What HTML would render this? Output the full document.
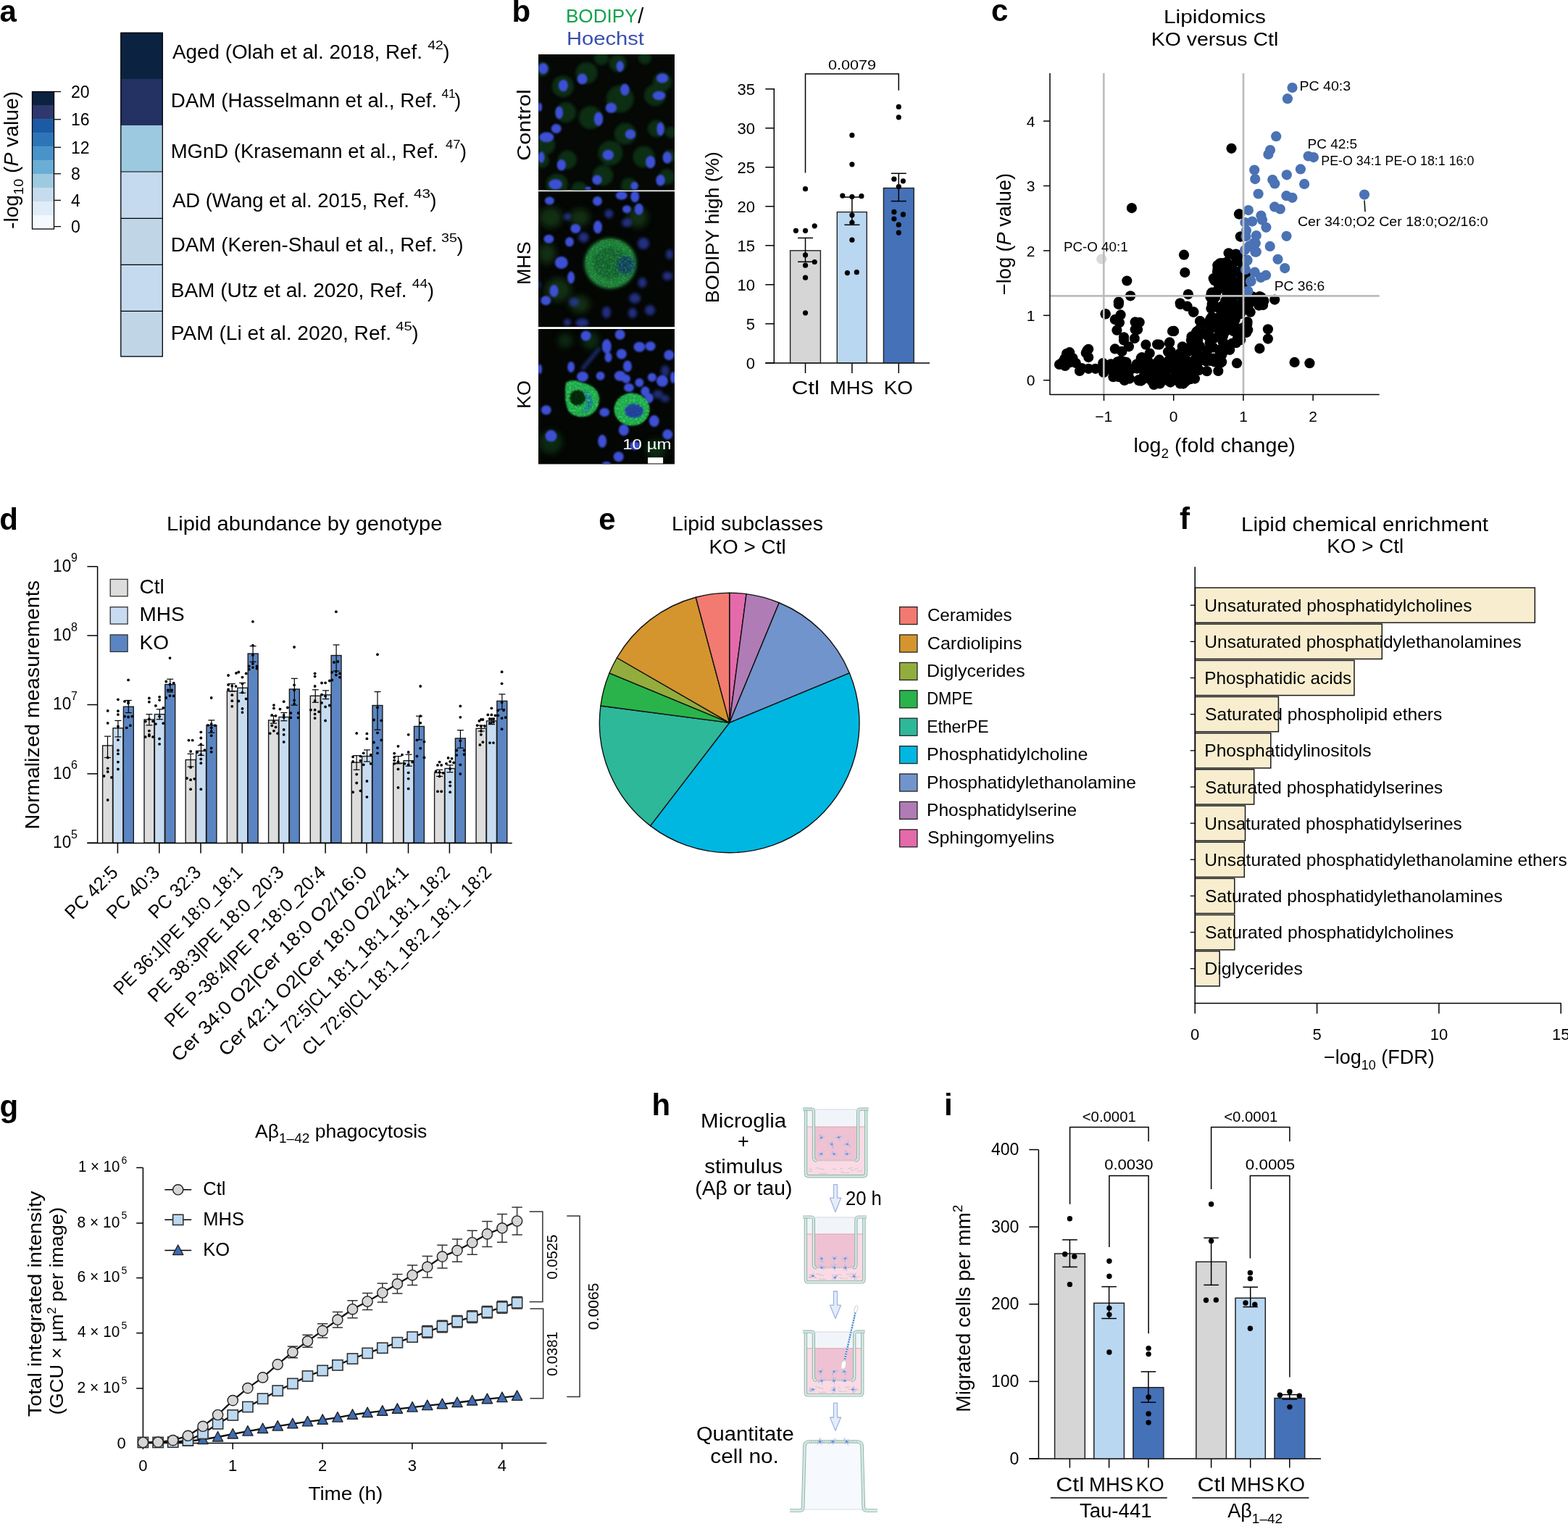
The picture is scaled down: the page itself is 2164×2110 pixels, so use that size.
<!DOCTYPE html>
<html><head><meta charset="utf-8"><title>Figure</title>
<style>html,body{margin:0;padding:0;background:#fff;overflow:hidden;} svg{display:block;} text{font-family:"Liberation Sans", Arial, sans-serif;}</style>
</head><body>
<svg width="2164" height="2110" viewBox="0 0 2164 2110">
<rect width="2164" height="2110" fill="#fff"/>
<text x="-0.6" y="29.5" font-size="42" font-weight="bold">a</text>
<rect x="44.5" y="126.5" width="30.0" height="19.4" fill="#0b2240"/>
<rect x="44.5" y="145.4" width="30.0" height="19.4" fill="#2e386c"/>
<rect x="44.5" y="164.4" width="30.0" height="19.4" fill="#1b5aa4"/>
<rect x="44.5" y="183.3" width="30.0" height="19.4" fill="#2e75b8"/>
<rect x="44.5" y="202.3" width="30.0" height="19.4" fill="#4893c7"/>
<rect x="44.5" y="221.2" width="30.0" height="19.4" fill="#6aadd5"/>
<rect x="44.5" y="240.2" width="30.0" height="19.4" fill="#9ecae0"/>
<rect x="44.5" y="259.1" width="30.0" height="19.4" fill="#c7dbee"/>
<rect x="44.5" y="278.1" width="30.0" height="19.4" fill="#e0ecf7"/>
<rect x="44.5" y="297.0" width="30.0" height="19.4" fill="#f5f9fd"/>
<rect x="44.5" y="126.5" width="30.0" height="189.5" fill="none" stroke="#000" stroke-width="1.3"/>
<line x1="74.5" y1="126.5" x2="84.0" y2="126.5" stroke="#000" stroke-width="1.3"/>
<text x="98.0" y="134.8" font-size="23">20</text>
<line x1="74.5" y1="164.8" x2="84.0" y2="164.8" stroke="#000" stroke-width="1.3"/>
<text x="98.0" y="173.1" font-size="23">16</text>
<line x1="74.5" y1="203.3" x2="84.0" y2="203.3" stroke="#000" stroke-width="1.3"/>
<text x="98.0" y="211.6" font-size="23">12</text>
<line x1="74.5" y1="239.8" x2="84.0" y2="239.8" stroke="#000" stroke-width="1.3"/>
<text x="98.0" y="248.1" font-size="23">8</text>
<line x1="74.5" y1="276.4" x2="84.0" y2="276.4" stroke="#000" stroke-width="1.3"/>
<text x="98.0" y="284.7" font-size="23">4</text>
<line x1="74.5" y1="312.6" x2="84.0" y2="312.6" stroke="#000" stroke-width="1.3"/>
<text x="98.0" y="320.9" font-size="23">0</text>
<text transform="translate(25 316) rotate(-90)" font-size="27" textLength="190" lengthAdjust="spacingAndGlyphs">-log<tspan font-size="19" dy="7">10</tspan><tspan dy="-7"> (</tspan><tspan font-style="italic">P</tspan> value)</text>
<rect x="166.8" y="44.8" width="57.5" height="64.2" fill="#0b2341"/>
<rect x="166.8" y="109.0" width="57.5" height="64.0" fill="#233163"/>
<rect x="166.8" y="173.0" width="57.5" height="64.0" fill="#9dc9e0"/>
<rect x="166.8" y="237.0" width="57.5" height="64.4" fill="#c5daee"/>
<rect x="166.8" y="301.4" width="57.5" height="63.9" fill="#c0d6e7"/>
<rect x="166.8" y="365.3" width="57.5" height="64.0" fill="#c5daee"/>
<rect x="166.8" y="429.3" width="57.5" height="63.2" fill="#c0d6e7"/>
<line x1="166.8" y1="237.0" x2="224.3" y2="237.0" stroke="#000" stroke-width="1.2"/>
<line x1="166.8" y1="301.4" x2="224.3" y2="301.4" stroke="#000" stroke-width="1.2"/>
<line x1="166.8" y1="365.3" x2="224.3" y2="365.3" stroke="#000" stroke-width="1.2"/>
<line x1="166.8" y1="429.3" x2="224.3" y2="429.3" stroke="#000" stroke-width="1.2"/>
<rect x="166.8" y="45.4" width="57.5" height="446.5" fill="none" stroke="#000" stroke-width="1.3"/>
<text x="237.9" y="81.0" font-size="27" textLength="345.1" lengthAdjust="spacingAndGlyphs">Aged (Olah et al. 2018, Ref.</text>
<text x="590.2" y="68.0" font-size="17" textLength="21.7" lengthAdjust="spacingAndGlyphs">42</text>
<text x="611.5" y="81.0" font-size="27">)</text>
<text x="235.7" y="147.7" font-size="27" textLength="367.6" lengthAdjust="spacingAndGlyphs">DAM (Hasselmann et al., Ref.</text>
<text x="609.4" y="134.7" font-size="17" textLength="19.2" lengthAdjust="spacingAndGlyphs">41</text>
<text x="627.2" y="147.7" font-size="27">)</text>
<text x="235.7" y="218.0" font-size="27" textLength="369.8" lengthAdjust="spacingAndGlyphs">MGnD (Krasemann et al., Ref.</text>
<text x="615.0" y="205.0" font-size="17" textLength="20.4" lengthAdjust="spacingAndGlyphs">47</text>
<text x="635.1" y="218.0" font-size="27">)</text>
<text x="237.9" y="286.0" font-size="27" textLength="327.1" lengthAdjust="spacingAndGlyphs">AD (Wang et al. 2015, Ref.</text>
<text x="571.0" y="273.0" font-size="17" textLength="22.8" lengthAdjust="spacingAndGlyphs">43</text>
<text x="593.4" y="286.0" font-size="27">)</text>
<text x="235.7" y="347.3" font-size="27" textLength="367.6" lengthAdjust="spacingAndGlyphs">DAM (Keren-Shaul et al., Ref.</text>
<text x="609.1" y="334.3" font-size="17" textLength="21.8" lengthAdjust="spacingAndGlyphs">35</text>
<text x="630.5" y="347.3" font-size="27">)</text>
<text x="235.7" y="410.4" font-size="27" textLength="325.9" lengthAdjust="spacingAndGlyphs">BAM (Utz et al. 2020, Ref.</text>
<text x="568.8" y="397.4" font-size="17" textLength="21.3" lengthAdjust="spacingAndGlyphs">44</text>
<text x="590.0" y="410.4" font-size="27">)</text>
<text x="235.7" y="469.0" font-size="27" textLength="304.5" lengthAdjust="spacingAndGlyphs">PAM (Li et al. 2020, Ref.</text>
<text x="546.2" y="456.0" font-size="17" textLength="22.6" lengthAdjust="spacingAndGlyphs">45</text>
<text x="568.5" y="469.0" font-size="27">)</text>
<text x="706.4" y="29.7" font-size="42" font-weight="bold">b</text>
<text x="780.9" y="30.7" font-size="26" textLength="98.7" lengthAdjust="spacingAndGlyphs" fill="#12a24b">BODIPY</text>
<text x="880.2" y="32.0" font-size="29">/</text>
<text x="781.9" y="62.0" font-size="26" textLength="107.1" lengthAdjust="spacingAndGlyphs" fill="#3a4fae">Hoechst</text>
<defs>
<filter id="bl1" x="-50%" y="-50%" width="200%" height="200%"><feGaussianBlur stdDeviation="1.2"/></filter>
<filter id="bl2" x="-50%" y="-50%" width="200%" height="200%"><feGaussianBlur stdDeviation="5"/></filter>
<filter id="bl3" x="-50%" y="-50%" width="200%" height="200%"><feGaussianBlur stdDeviation="2.2"/></filter>
<filter id="tex" x="0" y="0" width="100%" height="100%"><feTurbulence type="fractalNoise" baseFrequency="0.35" numOctaves="2" seed="4"/><feColorMatrix type="matrix" values="0 0 0 0 0.15  0 0 0 0 0.85  0 0 0 0 0.35  0 0 0 2.2 -0.95"/><feComposite in2="SourceGraphic" operator="in"/></filter>
<clipPath id="cp1"><rect x="743" y="75" width="188" height="187.5"/></clipPath>
<clipPath id="cp2"><rect x="743" y="264.2" width="188" height="187"/></clipPath>
<clipPath id="cp3"><rect x="743" y="454" width="188" height="186.5"/></clipPath>
</defs>
<rect x="743.0" y="75.0" width="188.0" height="187.5" fill="#050805"/>
<rect x="743.0" y="264.2" width="188.0" height="187.0" fill="#040604"/>
<rect x="743.0" y="454.0" width="188.0" height="186.5" fill="#040604"/>
<g clip-path="url(#cp1)"><g filter="url(#bl3)" fill="#113016" opacity="0.95"><circle cx="748.2" cy="95.6" r="10.0"/><circle cx="809.6" cy="100.7" r="15.0"/><circle cx="852.7" cy="87.4" r="12.0"/><circle cx="914.1" cy="113.0" r="13.0"/><circle cx="776.9" cy="119.2" r="15.0"/><circle cx="855.7" cy="136.6" r="19.0"/><circle cx="903.9" cy="131.4" r="15.0"/><circle cx="781.0" cy="155.0" r="14.0"/><circle cx="814.8" cy="162.2" r="16.0"/><circle cx="862.9" cy="184.7" r="15.0"/><circle cx="905.9" cy="177.5" r="12.0"/><circle cx="926.4" cy="182.7" r="8.0"/><circle cx="753.3" cy="200.1" r="13.0"/><circle cx="783.0" cy="220.6" r="13.0"/><circle cx="842.4" cy="211.3" r="17.0"/><circle cx="888.5" cy="216.5" r="15.0"/><circle cx="924.3" cy="215.4" r="9.0"/><circle cx="832.2" cy="242.1" r="14.0"/><circle cx="768.7" cy="254.4" r="15.0"/><circle cx="868.0" cy="256.4" r="11.0"/><circle cx="920.3" cy="244.1" r="11.0"/><circle cx="799.4" cy="261.5" r="11.0"/><circle cx="748.2" cy="221.6" r="10.0"/><circle cx="830.0" cy="80.0" r="10.0"/><circle cx="890.0" cy="80.0" r="9.0"/></g><g filter="url(#bl1)" fill="#3d4fd4"><ellipse cx="749.7" cy="94.6" rx="6.7" ry="7.7"/><ellipse cx="803.5" cy="108.9" rx="7.0" ry="7.4"/><ellipse cx="855.7" cy="91.5" rx="5.2" ry="7.4"/><ellipse cx="914.1" cy="107.9" rx="8.2" ry="6.6"/><ellipse cx="777.4" cy="118.1" rx="6.6" ry="8.2"/><ellipse cx="862.4" cy="123.8" rx="6.2" ry="8.2"/><ellipse cx="909.5" cy="132.0" rx="8.7" ry="6.2"/><ellipse cx="745.1" cy="147.8" rx="3.0" ry="6.2"/><ellipse cx="771.7" cy="155.5" rx="5.3" ry="8.7"/><ellipse cx="843.4" cy="148.9" rx="7.7" ry="7.2"/><ellipse cx="826.0" cy="164.2" rx="6.2" ry="9.7"/><ellipse cx="767.7" cy="177.5" rx="7.0" ry="6.5"/><ellipse cx="754.3" cy="189.3" rx="10.0" ry="7.0"/><ellipse cx="870.0" cy="185.2" rx="7.2" ry="6.7"/><ellipse cx="911.5" cy="178.0" rx="5.2" ry="9.2"/><ellipse cx="747.2" cy="217.0" rx="4.5" ry="7.7"/><ellipse cx="774.8" cy="227.7" rx="6.2" ry="7.7"/><ellipse cx="839.3" cy="213.9" rx="7.7" ry="7.2"/><ellipse cx="897.7" cy="223.6" rx="6.7" ry="8.7"/><ellipse cx="920.8" cy="217.5" rx="6.2" ry="8.2"/><ellipse cx="824.0" cy="248.2" rx="6.7" ry="6.7"/><ellipse cx="766.6" cy="254.4" rx="9.2" ry="7.2"/><ellipse cx="911.5" cy="248.7" rx="6.2" ry="7.7"/><ellipse cx="875.7" cy="256.4" rx="5.2" ry="5.6"/><ellipse cx="811.7" cy="260.0" rx="4.0" ry="2.5"/></g></g>
<g clip-path="url(#cp2)"><g filter="url(#bl2)" fill="#143a18" opacity="0.8"><ellipse cx="760" cy="300" rx="16" ry="14"/><ellipse cx="800" cy="300" rx="14" ry="12"/><ellipse cx="770" cy="400" rx="18" ry="16"/><ellipse cx="800" cy="420" rx="14" ry="12"/><ellipse cx="880" cy="300" rx="14" ry="14"/><ellipse cx="755" cy="350" rx="12" ry="14"/></g><g filter="url(#bl3)"><ellipse cx="842.4" cy="363.5" rx="36" ry="35" fill="#1d7d36"/></g><g filter="url(#bl3)"><ellipse cx="842" cy="363" rx="24" ry="22" fill="#145a27" opacity="0.75"/><ellipse cx="864" cy="366" rx="12" ry="13" fill="#0f3d5e" opacity="0.9"/></g><ellipse cx="842.4" cy="363.5" rx="35" ry="34" fill="#fff" filter="url(#tex)" opacity="0.35"/><g filter="url(#bl1)" fill="#3d4fd4"><ellipse cx="758.4" cy="277.0" rx="6.5" ry="5.5"/><ellipse cx="824.5" cy="277.5" rx="6.5" ry="6.5"/><ellipse cx="857.8" cy="269.8" rx="8.0" ry="6.0"/><ellipse cx="876.2" cy="271.3" rx="6.0" ry="8.0"/><ellipse cx="865.0" cy="288.7" rx="6.0" ry="5.5"/><ellipse cx="881.8" cy="288.7" rx="6.0" ry="8.0"/><ellipse cx="794.3" cy="315.4" rx="7.0" ry="6.5"/><ellipse cx="825.0" cy="313.3" rx="6.0" ry="9.0"/><ellipse cx="757.4" cy="329.7" rx="7.0" ry="6.0"/><ellipse cx="786.0" cy="333.8" rx="6.0" ry="6.5"/><ellipse cx="774.8" cy="362.5" rx="9.0" ry="8.5"/><ellipse cx="788.1" cy="383.0" rx="5.0" ry="8.5"/><ellipse cx="764.6" cy="401.4" rx="6.0" ry="8.5"/><ellipse cx="753.3" cy="414.7" rx="7.0" ry="6.5"/></g><g filter="url(#bl3)" fill="#2a3aa0" opacity="0.8"><ellipse cx="840.4" cy="294.9" rx="6.0" ry="6.0"/><ellipse cx="783.0" cy="299.0" rx="5.0" ry="5.0"/><ellipse cx="865.0" cy="307.2" rx="7.0" ry="6.0"/><ellipse cx="805.5" cy="327.6" rx="7.0" ry="7.0"/><ellipse cx="888.0" cy="336.0" rx="8.0" ry="8.0"/><ellipse cx="924.0" cy="351.0" rx="5.0" ry="7.0"/><ellipse cx="921.3" cy="380.9" rx="7.0" ry="6.0"/><ellipse cx="886.5" cy="390.0" rx="6.0" ry="7.0"/><ellipse cx="792.2" cy="416.7" rx="7.0" ry="6.0"/><ellipse cx="876.2" cy="411.6" rx="8.0" ry="7.0"/><ellipse cx="837.0" cy="431.0" rx="6.0" ry="8.0"/><ellipse cx="873.0" cy="432.0" rx="6.0" ry="7.0"/><ellipse cx="897.0" cy="428.0" rx="7.0" ry="7.0"/><ellipse cx="803.5" cy="445.4" rx="9.0" ry="6.0"/><ellipse cx="783.0" cy="445.0" rx="5.0" ry="5.0"/><ellipse cx="744.0" cy="393.0" rx="2.0" ry="6.0"/></g></g>
<g clip-path="url(#cp3)"><g filter="url(#bl2)" fill="#0f3414" opacity="0.8"><ellipse cx="760" cy="610" rx="16" ry="16"/><ellipse cx="905" cy="620" rx="14" ry="14"/><ellipse cx="815" cy="470" rx="12" ry="12"/><ellipse cx="780" cy="470" rx="10" ry="10"/></g><g filter="url(#bl3)" fill="#2a3ca0" opacity="0.7"><line x1="803" y1="510" x2="828" y2="480" stroke="#2a3ca0" stroke-width="5"/><ellipse cx="918" cy="512" rx="6" ry="8"/><ellipse cx="908" cy="544" rx="7" ry="6"/><ellipse cx="918" cy="550" rx="6" ry="5"/></g><g filter="url(#bl1)" fill="#3d4fd4"><ellipse cx="808.6" cy="463.4" rx="7.0" ry="7.0"/><ellipse cx="855.7" cy="461.8" rx="7.0" ry="7.0"/><ellipse cx="837.3" cy="478.0" rx="6.5" ry="10.0"/><ellipse cx="839.5" cy="493.0" rx="5.0" ry="7.0"/><ellipse cx="857.8" cy="488.5" rx="7.0" ry="7.0"/><ellipse cx="882.4" cy="478.7" rx="8.0" ry="7.0"/><ellipse cx="897.7" cy="477.7" rx="7.0" ry="6.5"/><ellipse cx="923.3" cy="490.0" rx="7.0" ry="7.0"/><ellipse cx="788.1" cy="506.4" rx="5.0" ry="7.5"/><ellipse cx="866.0" cy="505.4" rx="6.0" ry="8.0"/><ellipse cx="855.7" cy="518.7" rx="8.0" ry="7.0"/><ellipse cx="864.0" cy="522.8" rx="6.0" ry="6.0"/><ellipse cx="804.0" cy="519.7" rx="8.0" ry="7.0"/><ellipse cx="828.6" cy="518.7" rx="6.0" ry="6.0"/><ellipse cx="745.0" cy="509.4" rx="3.0" ry="7.0"/><ellipse cx="899.8" cy="520.7" rx="6.0" ry="6.0"/><ellipse cx="914.0" cy="525.8" rx="8.0" ry="8.0"/><ellipse cx="929.0" cy="521.0" rx="4.0" ry="8.0"/><ellipse cx="882.4" cy="527.9" rx="6.0" ry="6.0"/><ellipse cx="868.0" cy="535.0" rx="7.0" ry="6.0"/><ellipse cx="890.5" cy="540.2" rx="6.0" ry="7.0"/><ellipse cx="895.7" cy="549.4" rx="6.0" ry="7.0"/><ellipse cx="753.8" cy="565.8" rx="7.0" ry="6.5"/><ellipse cx="834.2" cy="568.9" rx="7.0" ry="6.0"/><ellipse cx="902.8" cy="581.1" rx="7.0" ry="8.0"/><ellipse cx="860.9" cy="593.4" rx="7.0" ry="8.0"/><ellipse cx="760.5" cy="601.6" rx="8.0" ry="8.0"/><ellipse cx="831.2" cy="608.8" rx="6.0" ry="9.0"/><ellipse cx="921.3" cy="599.6" rx="7.0" ry="7.0"/><ellipse cx="853.7" cy="630.3" rx="7.0" ry="7.0"/><ellipse cx="876.2" cy="615.0" rx="7.0" ry="6.0"/><ellipse cx="837.0" cy="640.0" rx="6.0" ry="3.0"/></g><g filter="url(#bl1)"><path d="M781,528 Q790,522 803,528 Q824,532 827,548 Q828,566 812,574 Q795,578 785,568 Q778,555 781,528 Z" fill="#1aa844"/><ellipse cx="797" cy="549" rx="11" ry="11" fill="#062408"/><path d="M806,536 Q820,545 818,560 Q812,570 803,571 Q812,558 806,536 Z" fill="#1a7a8a" opacity="0.9"/><ellipse cx="872" cy="565" rx="24.5" ry="22.5" fill="#1aa844"/><ellipse cx="875" cy="567" rx="13" ry="10" fill="#1f3f9a"/></g><path d="M781,528 Q790,522 803,528 Q824,532 827,548 Q828,566 812,574 Q795,578 785,568 Q778,555 781,528 Z" fill="#fff" filter="url(#tex)" opacity="0.6"/><ellipse cx="872" cy="565" rx="24.5" ry="22.5" fill="#fff" filter="url(#tex)" opacity="0.6"/><g filter="url(#bl1)"><ellipse cx="797" cy="549" rx="10" ry="10" fill="#062408" opacity="0.8"/><ellipse cx="875" cy="567" rx="12" ry="9" fill="#1f3f9a" opacity="0.8"/></g></g>
<text x="859.2" y="620.0" font-size="21" textLength="67.4" lengthAdjust="spacingAndGlyphs" fill="#fff">10 µm</text>
<rect x="894.1" y="631.3" width="21.0" height="8.2" fill="#fff"/>
<text x="731.8" y="221.8" font-size="26" textLength="98.6" lengthAdjust="spacingAndGlyphs" transform="rotate(-90 731.8 221.8)">Control</text>
<text x="731.8" y="393.0" font-size="26" textLength="59.7" lengthAdjust="spacingAndGlyphs" transform="rotate(-90 731.8 393.0)">MHS</text>
<text x="731.8" y="564.0" font-size="26" textLength="39.2" lengthAdjust="spacingAndGlyphs" transform="rotate(-90 731.8 564.0)">KO</text>
<line x1="1068.3" y1="122.0" x2="1068.3" y2="501.5" stroke="#000" stroke-width="1.5"/>
<line x1="1056.3" y1="501.1" x2="1283.0" y2="501.1" stroke="#000" stroke-width="1.5"/>
<line x1="1056.3" y1="500.8" x2="1068.3" y2="500.8" stroke="#000" stroke-width="1.5"/>
<text x="1042.0" y="508.5" font-size="22" text-anchor="end">0</text>
<line x1="1056.3" y1="446.8" x2="1068.3" y2="446.8" stroke="#000" stroke-width="1.5"/>
<text x="1042.0" y="454.5" font-size="22" text-anchor="end">5</text>
<line x1="1056.3" y1="392.8" x2="1068.3" y2="392.8" stroke="#000" stroke-width="1.5"/>
<text x="1042.0" y="400.5" font-size="22" text-anchor="end">10</text>
<line x1="1056.3" y1="338.8" x2="1068.3" y2="338.8" stroke="#000" stroke-width="1.5"/>
<text x="1042.0" y="346.5" font-size="22" text-anchor="end">15</text>
<line x1="1056.3" y1="284.8" x2="1068.3" y2="284.8" stroke="#000" stroke-width="1.5"/>
<text x="1042.0" y="292.5" font-size="22" text-anchor="end">20</text>
<line x1="1056.3" y1="230.8" x2="1068.3" y2="230.8" stroke="#000" stroke-width="1.5"/>
<text x="1042.0" y="238.5" font-size="22" text-anchor="end">25</text>
<line x1="1056.3" y1="176.8" x2="1068.3" y2="176.8" stroke="#000" stroke-width="1.5"/>
<text x="1042.0" y="184.5" font-size="22" text-anchor="end">30</text>
<line x1="1056.3" y1="122.8" x2="1068.3" y2="122.8" stroke="#000" stroke-width="1.5"/>
<text x="1042.0" y="130.5" font-size="22" text-anchor="end">35</text>
<line x1="1111.5" y1="501.1" x2="1111.5" y2="515.0" stroke="#000" stroke-width="1.5"/>
<line x1="1175.9" y1="501.1" x2="1175.9" y2="515.0" stroke="#000" stroke-width="1.5"/>
<line x1="1240.3" y1="501.1" x2="1240.3" y2="515.0" stroke="#000" stroke-width="1.5"/>
<rect x="1090.6" y="345.8" width="41.8" height="155.0" fill="#d6d6d6" stroke="#222" stroke-width="1.4"/>
<rect x="1155.3" y="292.6" width="41.0" height="208.2" fill="#bad7f1" stroke="#222" stroke-width="1.4"/>
<rect x="1219.4" y="259.5" width="41.8" height="241.3" fill="#4471b8" stroke="#222" stroke-width="1.4"/>
<line x1="1111.5" y1="328.4" x2="1111.5" y2="361.3" stroke="#000" stroke-width="1.5"/>
<line x1="1101.0" y1="328.4" x2="1122.0" y2="328.4" stroke="#000" stroke-width="1.5"/>
<line x1="1101.0" y1="361.3" x2="1122.0" y2="361.3" stroke="#000" stroke-width="1.5"/>
<line x1="1175.9" y1="272.0" x2="1175.9" y2="310.3" stroke="#000" stroke-width="1.5"/>
<line x1="1165.4" y1="272.0" x2="1186.4" y2="272.0" stroke="#000" stroke-width="1.5"/>
<line x1="1165.4" y1="310.3" x2="1186.4" y2="310.3" stroke="#000" stroke-width="1.5"/>
<line x1="1240.3" y1="239.3" x2="1240.3" y2="277.6" stroke="#000" stroke-width="1.5"/>
<line x1="1229.8" y1="239.3" x2="1250.8" y2="239.3" stroke="#000" stroke-width="1.5"/>
<line x1="1229.8" y1="277.6" x2="1250.8" y2="277.6" stroke="#000" stroke-width="1.5"/>
<circle cx="1111.5" cy="260.7" r="3.6" fill="#000"/>
<circle cx="1098.4" cy="318.3" r="3.6" fill="#000"/>
<circle cx="1111.5" cy="318.3" r="3.6" fill="#000"/>
<circle cx="1124.2" cy="311.8" r="3.6" fill="#000"/>
<circle cx="1111.5" cy="351.9" r="3.6" fill="#000"/>
<circle cx="1124.2" cy="361.5" r="3.6" fill="#000"/>
<circle cx="1111.5" cy="366.2" r="3.6" fill="#000"/>
<circle cx="1111.5" cy="383.2" r="3.6" fill="#000"/>
<circle cx="1111.5" cy="431.8" r="3.6" fill="#000"/>
<circle cx="1175.9" cy="186.7" r="3.6" fill="#000"/>
<circle cx="1175.9" cy="226.8" r="3.6" fill="#000"/>
<circle cx="1162.8" cy="270.1" r="3.6" fill="#000"/>
<circle cx="1175.9" cy="271.5" r="3.6" fill="#000"/>
<circle cx="1188.9" cy="270.7" r="3.6" fill="#000"/>
<circle cx="1175.9" cy="296.8" r="3.6" fill="#000"/>
<circle cx="1175.9" cy="307.2" r="3.6" fill="#000"/>
<circle cx="1175.9" cy="331.2" r="3.6" fill="#000"/>
<circle cx="1169.4" cy="376.6" r="3.6" fill="#000"/>
<circle cx="1182.3" cy="375.7" r="3.6" fill="#000"/>
<circle cx="1240.3" cy="147.4" r="3.6" fill="#000"/>
<circle cx="1240.3" cy="161.8" r="3.6" fill="#000"/>
<circle cx="1233.9" cy="247.2" r="3.6" fill="#000"/>
<circle cx="1246.4" cy="249.8" r="3.6" fill="#000"/>
<circle cx="1240.3" cy="257.6" r="3.6" fill="#000"/>
<circle cx="1233.9" cy="292.4" r="3.6" fill="#000"/>
<circle cx="1246.4" cy="295.9" r="3.6" fill="#000"/>
<circle cx="1233.9" cy="302.0" r="3.6" fill="#000"/>
<circle cx="1240.3" cy="310.2" r="3.6" fill="#000"/>
<circle cx="1240.3" cy="321.1" r="3.6" fill="#000"/>
<path d="M1111.5,238.4 V102.1 H1240.3 V124.8" fill="none" stroke="#000" stroke-width="1.5"/>
<text x="1142.9" y="96.0" font-size="19" textLength="66.3" lengthAdjust="spacingAndGlyphs">0.0079</text>
<text x="1092.4" y="543.7" font-size="26.5" textLength="38.7" lengthAdjust="spacingAndGlyphs">Ctl</text>
<text x="1145.0" y="543.7" font-size="26.5" textLength="60.9" lengthAdjust="spacingAndGlyphs">MHS</text>
<text x="1219.7" y="543.7" font-size="26.5" textLength="40.2" lengthAdjust="spacingAndGlyphs">KO</text>
<text x="992.0" y="418.2" font-size="26" textLength="208.9" lengthAdjust="spacingAndGlyphs" transform="rotate(-90 992.0 418.2)">BODIPY high (%)</text>
<text x="1367.9" y="29.3" font-size="42" font-weight="bold">c</text>
<text x="1676.5" y="32.2" font-size="26.5" text-anchor="middle" textLength="141.0" lengthAdjust="spacingAndGlyphs">Lipidomics</text>
<text x="1676.5" y="63.1" font-size="26.5" text-anchor="middle" textLength="175.5" lengthAdjust="spacingAndGlyphs">KO versus Ctl</text>
<g fill="#000"><circle cx="1621.3" cy="499.6" r="7.1"/><circle cx="1615.3" cy="527.6" r="7.1"/><circle cx="1591.9" cy="528.3" r="7.1"/><circle cx="1614.1" cy="508.0" r="7.1"/><circle cx="1708.2" cy="375.2" r="7.1"/><circle cx="1632.1" cy="519.8" r="7.1"/><circle cx="1685.7" cy="465.3" r="7.1"/><circle cx="1688.4" cy="392.2" r="7.1"/><circle cx="1642.7" cy="523.2" r="7.1"/><circle cx="1598.0" cy="502.1" r="7.1"/><circle cx="1540.5" cy="518.3" r="7.1"/><circle cx="1589.7" cy="526.0" r="7.1"/><circle cx="1680.2" cy="366.0" r="7.1"/><circle cx="1605.6" cy="523.7" r="7.1"/><circle cx="1608.3" cy="512.7" r="7.1"/><circle cx="1691.9" cy="391.2" r="7.1"/><circle cx="1712.1" cy="469.2" r="7.1"/><circle cx="1686.5" cy="383.1" r="7.1"/><circle cx="1642.0" cy="518.1" r="7.1"/><circle cx="1650.9" cy="486.6" r="7.1"/><circle cx="1611.2" cy="522.8" r="7.1"/><circle cx="1672.7" cy="403.5" r="7.1"/><circle cx="1640.2" cy="512.5" r="7.1"/><circle cx="1713.0" cy="460.6" r="7.1"/><circle cx="1696.3" cy="453.3" r="7.1"/><circle cx="1551.9" cy="525.0" r="7.1"/><circle cx="1635.3" cy="527.3" r="7.1"/><circle cx="1646.0" cy="506.4" r="7.1"/><circle cx="1620.0" cy="524.6" r="7.1"/><circle cx="1667.0" cy="464.0" r="7.1"/><circle cx="1634.2" cy="512.8" r="7.1"/><circle cx="1666.5" cy="491.6" r="7.1"/><circle cx="1628.4" cy="487.6" r="7.1"/><circle cx="1717.0" cy="369.1" r="7.1"/><circle cx="1669.9" cy="497.8" r="7.1"/><circle cx="1703.6" cy="398.0" r="7.1"/><circle cx="1700.2" cy="431.0" r="7.1"/><circle cx="1744.4" cy="414.9" r="7.1"/><circle cx="1684.2" cy="381.5" r="7.1"/><circle cx="1592.2" cy="512.6" r="7.1"/><circle cx="1683.0" cy="381.8" r="7.1"/><circle cx="1612.0" cy="485.5" r="7.1"/><circle cx="1705.7" cy="350.6" r="7.1"/><circle cx="1680.3" cy="381.5" r="7.1"/><circle cx="1696.0" cy="374.7" r="7.1"/><circle cx="1717.3" cy="427.3" r="7.1"/><circle cx="1557.4" cy="507.8" r="7.1"/><circle cx="1693.3" cy="364.9" r="7.1"/><circle cx="1677.1" cy="410.3" r="7.1"/><circle cx="1713.6" cy="458.6" r="7.1"/><circle cx="1708.7" cy="389.8" r="7.1"/><circle cx="1603.8" cy="510.5" r="7.1"/><circle cx="1721.3" cy="447.5" r="7.1"/><circle cx="1715.4" cy="392.4" r="7.1"/><circle cx="1683.6" cy="486.5" r="7.1"/><circle cx="1676.3" cy="499.4" r="7.1"/><circle cx="1710.2" cy="453.7" r="7.1"/><circle cx="1722.2" cy="455.2" r="7.1"/><circle cx="1628.8" cy="529.5" r="7.1"/><circle cx="1622.1" cy="507.4" r="7.1"/><circle cx="1676.0" cy="408.2" r="7.1"/><circle cx="1692.7" cy="361.8" r="7.1"/><circle cx="1616.4" cy="506.6" r="7.1"/><circle cx="1700.3" cy="473.9" r="7.1"/><circle cx="1598.0" cy="509.3" r="7.1"/><circle cx="1582.0" cy="501.0" r="7.1"/><circle cx="1689.2" cy="420.1" r="7.1"/><circle cx="1546.6" cy="497.9" r="7.1"/><circle cx="1540.5" cy="506.3" r="7.1"/><circle cx="1740.7" cy="418.2" r="7.1"/><circle cx="1554.6" cy="499.9" r="7.1"/><circle cx="1578.8" cy="517.9" r="7.1"/><circle cx="1550.2" cy="509.4" r="7.1"/><circle cx="1644.3" cy="521.9" r="7.1"/><circle cx="1707.5" cy="421.0" r="7.1"/><circle cx="1686.7" cy="485.2" r="7.1"/><circle cx="1618.7" cy="496.1" r="7.1"/><circle cx="1649.3" cy="496.0" r="7.1"/><circle cx="1600.8" cy="529.4" r="7.1"/><circle cx="1632.4" cy="498.7" r="7.1"/><circle cx="1721.1" cy="444.9" r="7.1"/><circle cx="1724.7" cy="416.5" r="7.1"/><circle cx="1666.3" cy="483.7" r="7.1"/><circle cx="1702.6" cy="352.1" r="7.1"/><circle cx="1700.8" cy="444.5" r="7.1"/><circle cx="1591.8" cy="514.5" r="7.1"/><circle cx="1679.4" cy="401.8" r="7.1"/><circle cx="1709.8" cy="388.9" r="7.1"/><circle cx="1715.9" cy="384.7" r="7.1"/><circle cx="1672.5" cy="412.6" r="7.1"/><circle cx="1670.4" cy="441.2" r="7.1"/><circle cx="1655.0" cy="510.8" r="7.1"/><circle cx="1541.1" cy="516.1" r="7.1"/><circle cx="1670.5" cy="440.9" r="7.1"/><circle cx="1674.5" cy="494.5" r="7.1"/><circle cx="1686.0" cy="395.9" r="7.1"/><circle cx="1672.6" cy="450.7" r="7.1"/><circle cx="1695.7" cy="426.8" r="7.1"/><circle cx="1683.9" cy="482.3" r="7.1"/><circle cx="1571.6" cy="524.2" r="7.1"/><circle cx="1611.8" cy="502.0" r="7.1"/><circle cx="1675.5" cy="467.0" r="7.1"/><circle cx="1701.3" cy="387.5" r="7.1"/><circle cx="1556.8" cy="516.0" r="7.1"/><circle cx="1684.3" cy="425.3" r="7.1"/><circle cx="1715.8" cy="452.1" r="7.1"/><circle cx="1682.3" cy="462.8" r="7.1"/><circle cx="1699.0" cy="441.3" r="7.1"/><circle cx="1589.1" cy="517.6" r="7.1"/><circle cx="1621.9" cy="519.5" r="7.1"/><circle cx="1646.3" cy="483.5" r="7.1"/><circle cx="1583.6" cy="497.4" r="7.1"/><circle cx="1549.7" cy="513.8" r="7.1"/><circle cx="1683.8" cy="494.8" r="7.1"/><circle cx="1696.1" cy="415.1" r="7.1"/><circle cx="1608.1" cy="513.7" r="7.1"/><circle cx="1633.0" cy="529.6" r="7.1"/><circle cx="1723.2" cy="408.4" r="7.1"/><circle cx="1687.4" cy="387.6" r="7.1"/><circle cx="1649.8" cy="506.7" r="7.1"/><circle cx="1544.6" cy="520.1" r="7.1"/><circle cx="1692.4" cy="397.1" r="7.1"/><circle cx="1656.0" cy="477.8" r="7.1"/><circle cx="1581.8" cy="502.0" r="7.1"/><circle cx="1715.6" cy="363.8" r="7.1"/><circle cx="1669.6" cy="473.5" r="7.1"/><circle cx="1715.2" cy="415.2" r="7.1"/><circle cx="1729.5" cy="414.4" r="7.1"/><circle cx="1693.3" cy="404.4" r="7.1"/><circle cx="1656.0" cy="453.5" r="7.1"/><circle cx="1702.1" cy="456.9" r="7.1"/><circle cx="1598.9" cy="508.9" r="7.1"/><circle cx="1680.7" cy="453.5" r="7.1"/><circle cx="1719.2" cy="375.3" r="7.1"/><circle cx="1644.3" cy="475.8" r="7.1"/><circle cx="1706.3" cy="401.5" r="7.1"/><circle cx="1644.5" cy="464.4" r="7.1"/><circle cx="1532.1" cy="509.1" r="7.1"/><circle cx="1622.5" cy="513.0" r="7.1"/><circle cx="1709.7" cy="402.8" r="7.1"/><circle cx="1720.4" cy="458.8" r="7.1"/><circle cx="1691.1" cy="457.3" r="7.1"/><circle cx="1618.9" cy="522.0" r="7.1"/><circle cx="1692.7" cy="452.1" r="7.1"/><circle cx="1682.8" cy="426.0" r="7.1"/><circle cx="1659.5" cy="491.2" r="7.1"/><circle cx="1671.7" cy="404.7" r="7.1"/><circle cx="1616.8" cy="494.6" r="7.1"/><circle cx="1571.9" cy="525.3" r="7.1"/><circle cx="1686.2" cy="499.5" r="7.1"/><circle cx="1719.5" cy="377.6" r="7.1"/><circle cx="1661.1" cy="496.2" r="7.1"/><circle cx="1680.5" cy="371.5" r="7.1"/><circle cx="1700.2" cy="367.6" r="7.1"/><circle cx="1651.7" cy="457.4" r="7.1"/><circle cx="1575.2" cy="493.8" r="7.1"/><circle cx="1586.8" cy="507.1" r="7.1"/><circle cx="1650.9" cy="458.8" r="7.1"/><circle cx="1631.8" cy="478.3" r="7.1"/><circle cx="1696.0" cy="402.2" r="7.1"/><circle cx="1592.5" cy="530.9" r="7.1"/><circle cx="1542.7" cy="519.8" r="7.1"/><circle cx="1682.3" cy="437.9" r="7.1"/><circle cx="1671.9" cy="442.6" r="7.1"/><circle cx="1550.9" cy="502.5" r="7.1"/><circle cx="1719.7" cy="387.1" r="7.1"/><circle cx="1672.4" cy="437.3" r="7.1"/><circle cx="1608.9" cy="523.0" r="7.1"/><circle cx="1653.2" cy="469.6" r="7.1"/><circle cx="1584.8" cy="499.1" r="7.1"/><circle cx="1689.1" cy="450.3" r="7.1"/><circle cx="1706.3" cy="360.2" r="7.1"/><circle cx="1677.5" cy="406.3" r="7.1"/><circle cx="1670.5" cy="447.6" r="7.1"/><circle cx="1628.1" cy="503.1" r="7.1"/><circle cx="1670.4" cy="409.7" r="7.1"/><circle cx="1675.5" cy="420.7" r="7.1"/><circle cx="1626.3" cy="505.0" r="7.1"/><circle cx="1679.4" cy="447.6" r="7.1"/><circle cx="1602.3" cy="518.7" r="7.1"/><circle cx="1702.7" cy="408.2" r="7.1"/><circle cx="1689.8" cy="429.4" r="7.1"/><circle cx="1687.1" cy="422.1" r="7.1"/><circle cx="1700.8" cy="405.2" r="7.1"/><circle cx="1618.6" cy="503.5" r="7.1"/><circle cx="1691.1" cy="415.2" r="7.1"/><circle cx="1653.4" cy="500.3" r="7.1"/><circle cx="1685.6" cy="370.0" r="7.1"/><circle cx="1696.2" cy="367.0" r="7.1"/><circle cx="1718.3" cy="405.5" r="7.1"/><circle cx="1686.5" cy="467.5" r="7.1"/><circle cx="1664.5" cy="498.6" r="7.1"/><circle cx="1691.1" cy="447.0" r="7.1"/><circle cx="1601.8" cy="509.4" r="7.1"/><circle cx="1558.0" cy="513.2" r="7.1"/><circle cx="1642.6" cy="503.1" r="7.1"/><circle cx="1690.8" cy="439.4" r="7.1"/><circle cx="1569.3" cy="508.6" r="7.1"/><circle cx="1719.9" cy="404.7" r="7.1"/><circle cx="1630.3" cy="492.3" r="7.1"/><circle cx="1722.9" cy="421.8" r="7.1"/><circle cx="1642.7" cy="480.2" r="7.1"/><circle cx="1688.5" cy="473.3" r="7.1"/><circle cx="1727.6" cy="415.4" r="7.1"/><circle cx="1689.3" cy="378.3" r="7.1"/><circle cx="1613.4" cy="509.0" r="7.1"/><circle cx="1638.1" cy="497.9" r="7.1"/><circle cx="1694.4" cy="418.5" r="7.1"/><circle cx="1697.2" cy="482.8" r="7.1"/><circle cx="1678.4" cy="403.4" r="7.1"/><circle cx="1663.6" cy="495.9" r="7.1"/><circle cx="1603.8" cy="514.8" r="7.1"/><circle cx="1713.5" cy="379.8" r="7.1"/><circle cx="1551.1" cy="514.8" r="7.1"/><circle cx="1687.9" cy="472.2" r="7.1"/><circle cx="1578.8" cy="495.8" r="7.1"/><circle cx="1643.2" cy="522.7" r="7.1"/><circle cx="1644.9" cy="514.1" r="7.1"/><circle cx="1706.0" cy="473.2" r="7.1"/><circle cx="1666.2" cy="460.5" r="7.1"/><circle cx="1560.1" cy="509.4" r="7.1"/><circle cx="1668.4" cy="458.1" r="7.1"/><circle cx="1697.6" cy="402.5" r="7.1"/><circle cx="1575.9" cy="493.1" r="7.1"/><circle cx="1715.7" cy="358.7" r="7.1"/><circle cx="1620.1" cy="496.7" r="7.1"/><circle cx="1541.9" cy="503.2" r="7.1"/><circle cx="1683.7" cy="387.2" r="7.1"/><circle cx="1711.2" cy="407.0" r="7.1"/><circle cx="1703.6" cy="427.5" r="7.1"/><circle cx="1696.7" cy="409.3" r="7.1"/><circle cx="1674.7" cy="384.2" r="7.1"/><circle cx="1700.6" cy="378.4" r="7.1"/><circle cx="1646.6" cy="503.4" r="7.1"/><circle cx="1577.7" cy="523.2" r="7.1"/><circle cx="1634.7" cy="518.0" r="7.1"/><circle cx="1596.7" cy="523.1" r="7.1"/><circle cx="1666.6" cy="446.6" r="7.1"/><circle cx="1690.2" cy="383.7" r="7.1"/><circle cx="1688.1" cy="463.2" r="7.1"/><circle cx="1549.7" cy="513.3" r="7.1"/><circle cx="1600.1" cy="496.4" r="7.1"/><circle cx="1672.6" cy="419.8" r="7.1"/><circle cx="1598.2" cy="498.9" r="7.1"/><circle cx="1614.7" cy="485.8" r="7.1"/><circle cx="1640.3" cy="485.1" r="7.1"/><circle cx="1697.5" cy="400.9" r="7.1"/><circle cx="1629.3" cy="520.4" r="7.1"/><circle cx="1683.7" cy="363.3" r="7.1"/><circle cx="1683.2" cy="455.9" r="7.1"/><circle cx="1691.1" cy="371.7" r="7.1"/><circle cx="1578.2" cy="494.1" r="7.1"/><circle cx="1634.5" cy="507.2" r="7.1"/><circle cx="1707.8" cy="467.0" r="7.1"/><circle cx="1655.8" cy="460.4" r="7.1"/><circle cx="1670.5" cy="451.4" r="7.1"/><circle cx="1691.4" cy="483.0" r="7.1"/><circle cx="1531.5" cy="505.8" r="7.1"/><circle cx="1711.8" cy="433.3" r="7.1"/><circle cx="1639.4" cy="504.1" r="7.1"/><circle cx="1686.3" cy="446.5" r="7.1"/><circle cx="1683.4" cy="378.9" r="7.1"/><circle cx="1631.8" cy="509.9" r="7.1"/><circle cx="1553.1" cy="508.0" r="7.1"/><circle cx="1713.3" cy="425.9" r="7.1"/><circle cx="1674.2" cy="479.5" r="7.1"/><circle cx="1696.0" cy="387.9" r="7.1"/><circle cx="1649.5" cy="506.8" r="7.1"/><circle cx="1673.5" cy="417.2" r="7.1"/><circle cx="1647.1" cy="469.6" r="7.1"/><circle cx="1566.9" cy="507.7" r="7.1"/><circle cx="1657.8" cy="461.3" r="7.1"/><circle cx="1704.7" cy="441.3" r="7.1"/><circle cx="1700.7" cy="411.3" r="7.1"/><circle cx="1577.9" cy="521.5" r="7.1"/><circle cx="1575.9" cy="507.5" r="7.1"/><circle cx="1608.6" cy="516.9" r="7.1"/><circle cx="1550.8" cy="499.1" r="7.1"/><circle cx="1686.7" cy="488.1" r="7.1"/><circle cx="1684.3" cy="452.3" r="7.1"/><circle cx="1695.6" cy="349.3" r="7.1"/><circle cx="1708.0" cy="352.0" r="7.1"/><circle cx="1713.6" cy="363.0" r="7.1"/><circle cx="1717.5" cy="380.0" r="7.1"/><circle cx="1719.0" cy="401.4" r="7.1"/><circle cx="1728.6" cy="409.3" r="7.1"/><circle cx="1740.5" cy="410.0" r="7.1"/><circle cx="1743.1" cy="420.9" r="7.1"/><circle cx="1725.7" cy="430.7" r="7.1"/><circle cx="1721.6" cy="444.0" r="7.1"/><circle cx="1719.2" cy="458.5" r="7.1"/><circle cx="1709.1" cy="466.5" r="7.1"/><circle cx="1696.5" cy="477.1" r="7.1"/><circle cx="1685.7" cy="490.7" r="7.1"/><circle cx="1683.7" cy="501.2" r="7.1"/><circle cx="1665.7" cy="512.2" r="7.1"/><circle cx="1649.0" cy="522.6" r="7.1"/><circle cx="1638.0" cy="525.1" r="7.1"/><circle cx="1628.7" cy="527.6" r="7.1"/><circle cx="1609.4" cy="524.5" r="7.1"/><circle cx="1594.2" cy="526.5" r="7.1"/><circle cx="1574.8" cy="525.6" r="7.1"/><circle cx="1559.0" cy="522.6" r="7.1"/><circle cx="1541.1" cy="518.6" r="7.1"/><circle cx="1536.4" cy="520.2" r="7.1"/><circle cx="1534.4" cy="510.7" r="7.1"/><circle cx="1533.2" cy="502.3" r="7.1"/><circle cx="1542.2" cy="499.4" r="7.1"/><circle cx="1553.7" cy="501.4" r="7.1"/><circle cx="1569.0" cy="502.3" r="7.1"/><circle cx="1574.8" cy="494.3" r="7.1"/><circle cx="1597.0" cy="500.5" r="7.1"/><circle cx="1613.4" cy="496.9" r="7.1"/><circle cx="1615.9" cy="484.9" r="7.1"/><circle cx="1632.3" cy="482.1" r="7.1"/><circle cx="1643.9" cy="469.4" r="7.1"/><circle cx="1657.5" cy="457.8" r="7.1"/><circle cx="1670.5" cy="440.3" r="7.1"/><circle cx="1671.4" cy="425.7" r="7.1"/><circle cx="1673.6" cy="409.6" r="7.1"/><circle cx="1681.9" cy="393.7" r="7.1"/><circle cx="1676.3" cy="387.3" r="7.1"/><circle cx="1680.0" cy="375.1" r="7.1"/><circle cx="1686.3" cy="363.1" r="7.1"/><circle cx="1699.5" cy="204.8" r="7.1"/><circle cx="1561.9" cy="287.1" r="7.1"/><circle cx="1710.5" cy="295.5" r="7.1"/><circle cx="1712.3" cy="326.5" r="7.1"/><circle cx="1634.0" cy="351.7" r="7.1"/><circle cx="1635.3" cy="376.0" r="7.1"/><circle cx="1555.3" cy="387.5" r="7.1"/><circle cx="1560.1" cy="408.3" r="7.1"/><circle cx="1543.8" cy="416.7" r="7.1"/><circle cx="1639.8" cy="406.1" r="7.1"/><circle cx="1525.6" cy="433.5" r="7.1"/><circle cx="1759.2" cy="413.6" r="7.1"/><circle cx="1738.4" cy="409.0" r="7.1"/><circle cx="1737.3" cy="421.6" r="7.1"/><circle cx="1749.9" cy="454.3" r="7.1"/><circle cx="1749.9" cy="467.6" r="7.1"/><circle cx="1738.4" cy="480.9" r="7.1"/><circle cx="1786.6" cy="499.9" r="7.1"/><circle cx="1807.4" cy="501.2" r="7.1"/><circle cx="1707.0" cy="501.2" r="7.1"/><circle cx="1681.3" cy="511.9" r="7.1"/><circle cx="1628.7" cy="418.3" r="7.1"/><circle cx="1638.6" cy="422.7" r="7.1"/><circle cx="1647.4" cy="430.4" r="7.1"/><circle cx="1656.3" cy="443.1" r="7.1"/><circle cx="1619.9" cy="456.9" r="7.1"/><circle cx="1613.8" cy="473.4" r="7.1"/><circle cx="1600.0" cy="475.6" r="7.1"/><circle cx="1675.0" cy="406.1" r="7.1"/><circle cx="1710.0" cy="295.4" r="7.1"/><circle cx="1711.8" cy="326.6" r="7.1"/><circle cx="1544.0" cy="417.0" r="7.1"/><circle cx="1525.7" cy="433.1" r="7.1"/><circle cx="1546.6" cy="434.4" r="7.1"/><circle cx="1538.8" cy="440.9" r="7.1"/><circle cx="1544.9" cy="445.3" r="7.1"/><circle cx="1541.4" cy="455.7" r="7.1"/><circle cx="1551.0" cy="465.3" r="7.1"/><circle cx="1551.0" cy="469.6" r="7.1"/><circle cx="1566.6" cy="444.4" r="7.1"/><circle cx="1572.7" cy="444.8" r="7.1"/><circle cx="1566.6" cy="454.8" r="7.1"/><circle cx="1570.1" cy="454.8" r="7.1"/><circle cx="1565.8" cy="467.0" r="7.1"/><circle cx="1557.9" cy="478.3" r="7.1"/><circle cx="1538.8" cy="481.4" r="7.1"/><circle cx="1548.4" cy="484.9" r="7.1"/><circle cx="1581.4" cy="475.7" r="7.1"/><circle cx="1597.1" cy="475.3" r="7.1"/><circle cx="1586.7" cy="487.5" r="7.1"/><circle cx="1618.0" cy="457.0" r="7.1"/><circle cx="1476.1" cy="486.2" r="7.1"/><circle cx="1472.0" cy="488.0" r="7.1"/><circle cx="1469.2" cy="494.9" r="7.1"/><circle cx="1477.0" cy="500.1" r="7.1"/><circle cx="1484.8" cy="501.0" r="7.1"/><circle cx="1480.5" cy="494.0" r="7.1"/><circle cx="1500.5" cy="483.6" r="7.1"/><circle cx="1502.2" cy="481.8" r="7.1"/><circle cx="1498.7" cy="487.0" r="7.1"/><circle cx="1502.2" cy="493.1" r="7.1"/><circle cx="1502.2" cy="508.8" r="7.1"/><circle cx="1511.8" cy="508.8" r="7.1"/><circle cx="1522.2" cy="501.0" r="7.1"/><circle cx="1523.1" cy="506.2" r="7.1"/><circle cx="1523.1" cy="514.0" r="7.1"/><circle cx="1544.0" cy="499.2" r="7.1"/><circle cx="1620.0" cy="456.9" r="7.1"/><circle cx="1614.2" cy="472.4" r="7.1"/><circle cx="1629.0" cy="420.0" r="7.1"/><circle cx="1647.0" cy="430.7" r="7.1"/><circle cx="1656.0" cy="443.0" r="7.1"/><circle cx="1543.8" cy="420.0" r="7.1"/><circle cx="1466.0" cy="500.0" r="7.1"/><circle cx="1462.0" cy="503.0" r="7.1"/><circle cx="1470.0" cy="505.0" r="7.1"/><circle cx="1493.0" cy="508.0" r="7.1"/><circle cx="1490.0" cy="512.0" r="7.1"/></g>
<g fill="#4a72b4"><circle cx="1783.5" cy="121.0" r="7.1"/><circle cx="1776.9" cy="136.2" r="7.1"/><circle cx="1761.2" cy="188.2" r="7.1"/><circle cx="1753.0" cy="207.1" r="7.1"/><circle cx="1750.4" cy="212.9" r="7.1"/><circle cx="1805.6" cy="215.5" r="7.1"/><circle cx="1812.9" cy="217.1" r="7.1"/><circle cx="1731.2" cy="234.5" r="7.1"/><circle cx="1732.2" cy="247.1" r="7.1"/><circle cx="1756.2" cy="248.1" r="7.1"/><circle cx="1759.3" cy="253.4" r="7.1"/><circle cx="1775.8" cy="241.3" r="7.1"/><circle cx="1794.9" cy="233.4" r="7.1"/><circle cx="1800.1" cy="253.9" r="7.1"/><circle cx="1736.6" cy="267.5" r="7.1"/><circle cx="1775.4" cy="270.2" r="7.1"/><circle cx="1783.5" cy="272.8" r="7.1"/><circle cx="1759.1" cy="285.4" r="7.1"/><circle cx="1766.8" cy="288.5" r="7.1"/><circle cx="1722.9" cy="290.1" r="7.1"/><circle cx="1740.4" cy="297.5" r="7.1"/><circle cx="1883.0" cy="268.6" r="7.1"/><circle cx="1742.0" cy="303.6" r="7.1"/><circle cx="1718.4" cy="307.1" r="7.1"/><circle cx="1728.2" cy="305.6" r="7.1"/><circle cx="1747.4" cy="313.8" r="7.1"/><circle cx="1719.5" cy="326.1" r="7.1"/><circle cx="1733.8" cy="325.1" r="7.1"/><circle cx="1775.5" cy="325.8" r="7.1"/><circle cx="1726.1" cy="338.9" r="7.1"/><circle cx="1732.8" cy="335.8" r="7.1"/><circle cx="1752.7" cy="339.9" r="7.1"/><circle cx="1733.8" cy="347.6" r="7.1"/><circle cx="1721.5" cy="359.4" r="7.1"/><circle cx="1763.5" cy="357.8" r="7.1"/><circle cx="1773.2" cy="370.1" r="7.1"/><circle cx="1731.7" cy="375.7" r="7.1"/><circle cx="1747.1" cy="379.8" r="7.1"/><circle cx="1726.6" cy="388.0" r="7.1"/><circle cx="1722.0" cy="401.9" r="7.1"/><circle cx="1730.2" cy="335.5" r="7.1"/><circle cx="1723.5" cy="339.9" r="7.1"/><circle cx="1732.4" cy="347.7" r="7.1"/><circle cx="1721.3" cy="358.7" r="7.1"/><circle cx="1740.1" cy="383.0" r="7.1"/><circle cx="1725.8" cy="388.5" r="7.1"/><circle cx="1722.4" cy="401.7" r="7.1"/><circle cx="1720.0" cy="318.0" r="7.1"/><circle cx="1718.0" cy="345.0" r="7.1"/><circle cx="1719.0" cy="372.0" r="7.1"/></g>
<circle cx="1520.3" cy="357.5" r="7.1" fill="#d9d9d9"/>
<line x1="1523.3" y1="100.9" x2="1523.3" y2="544.0" stroke="#bdbdbd" stroke-width="2.7"/>
<line x1="1716.0" y1="100.9" x2="1716.0" y2="544.0" stroke="#bdbdbd" stroke-width="2.7"/>
<line x1="1449.0" y1="408.4" x2="1903.7" y2="408.4" stroke="#bdbdbd" stroke-width="2.7"/>
<line x1="1449.0" y1="100.9" x2="1449.0" y2="545.0" stroke="#000" stroke-width="1.5"/>
<line x1="1449.0" y1="544.4" x2="1903.7" y2="544.4" stroke="#000" stroke-width="1.5"/>
<line x1="1523.5" y1="544.4" x2="1523.5" y2="553.0" stroke="#000" stroke-width="1.5"/>
<line x1="1619.7" y1="544.4" x2="1619.7" y2="553.0" stroke="#000" stroke-width="1.5"/>
<line x1="1715.9" y1="544.4" x2="1715.9" y2="553.0" stroke="#000" stroke-width="1.5"/>
<line x1="1812.1" y1="544.4" x2="1812.1" y2="553.0" stroke="#000" stroke-width="1.5"/>
<line x1="1440.0" y1="524.7" x2="1449.0" y2="524.7" stroke="#000" stroke-width="1.5"/>
<text x="1428.5" y="532.3" font-size="21" text-anchor="end">0</text>
<line x1="1440.0" y1="435.3" x2="1449.0" y2="435.3" stroke="#000" stroke-width="1.5"/>
<text x="1428.5" y="442.9" font-size="21" text-anchor="end">1</text>
<line x1="1440.0" y1="345.9" x2="1449.0" y2="345.9" stroke="#000" stroke-width="1.5"/>
<text x="1428.5" y="353.5" font-size="21" text-anchor="end">2</text>
<line x1="1440.0" y1="256.5" x2="1449.0" y2="256.5" stroke="#000" stroke-width="1.5"/>
<text x="1428.5" y="264.1" font-size="21" text-anchor="end">3</text>
<line x1="1440.0" y1="167.1" x2="1449.0" y2="167.1" stroke="#000" stroke-width="1.5"/>
<text x="1428.5" y="174.7" font-size="21" text-anchor="end">4</text>
<text x="1523.3" y="581.7" font-size="21" text-anchor="middle">−1</text>
<text x="1619.7" y="581.7" font-size="21" text-anchor="middle">0</text>
<text x="1716.0" y="581.7" font-size="21" text-anchor="middle">1</text>
<text x="1812.0" y="581.7" font-size="21" text-anchor="middle">2</text>
<text x="1564.4" y="623.8" font-size="27" textLength="223.4" lengthAdjust="spacingAndGlyphs">log<tspan font-size="18" dy="8.6">2</tspan><tspan dy="-8.6"> (fold change)</tspan></text>
<text transform="translate(1395 407) rotate(-90)" font-size="27" textLength="168" lengthAdjust="spacingAndGlyphs">−log (<tspan font-style="italic">P</tspan> value)</text>
<text x="1793.4" y="124.9" font-size="18" textLength="70.8" lengthAdjust="spacingAndGlyphs">PC 40:3</text>
<text x="1804.5" y="205.4" font-size="18" textLength="68.6" lengthAdjust="spacingAndGlyphs">PC 42:5</text>
<text x="1823.3" y="227.5" font-size="18" textLength="211.1" lengthAdjust="spacingAndGlyphs">PE-O 34:1 PE-O 18:1 16:0</text>
<text x="1790.9" y="312.3" font-size="18" textLength="262.8" lengthAdjust="spacingAndGlyphs">Cer 34:0;O2 Cer 18:0;O2/16:0</text>
<text x="1758.8" y="400.6" font-size="18" textLength="69.5" lengthAdjust="spacingAndGlyphs">PC 36:6</text>
<text x="1467.9" y="347.3" font-size="18" textLength="88.8" lengthAdjust="spacingAndGlyphs">PC-O 40:1</text>
<line x1="1883.0" y1="276.5" x2="1884.0" y2="292.3" stroke="#000" stroke-width="1.5"/>
<text x="-0.7" y="731.2" font-size="42" font-weight="bold">d</text>
<text x="230.0" y="732.2" font-size="27" textLength="380.5" lengthAdjust="spacingAndGlyphs">Lipid abundance by genotype</text>
<rect x="141.6" y="1028.9" width="13.9" height="134.3" fill="#dddddd" stroke="#1a1a1a" stroke-width="1.4"/>
<rect x="156.0" y="1004.8" width="13.9" height="158.4" fill="#c8dcf1" stroke="#1a1a1a" stroke-width="1.4"/>
<rect x="170.4" y="975.2" width="13.9" height="188.0" fill="#5b85c2" stroke="#1a1a1a" stroke-width="1.4"/>
<line x1="148.5" y1="1016.1" x2="148.5" y2="1045.5" stroke="#000" stroke-width="1.2"/>
<line x1="144.0" y1="1016.1" x2="153.0" y2="1016.1" stroke="#000" stroke-width="1.2"/>
<line x1="144.0" y1="1045.5" x2="153.0" y2="1045.5" stroke="#000" stroke-width="1.2"/>
<line x1="162.9" y1="994.4" x2="162.9" y2="1016.9" stroke="#000" stroke-width="1.2"/>
<line x1="158.4" y1="994.4" x2="167.4" y2="994.4" stroke="#000" stroke-width="1.2"/>
<line x1="158.4" y1="1016.9" x2="167.4" y2="1016.9" stroke="#000" stroke-width="1.2"/>
<line x1="177.3" y1="966.5" x2="177.3" y2="983.5" stroke="#000" stroke-width="1.2"/>
<line x1="172.8" y1="966.5" x2="181.8" y2="966.5" stroke="#000" stroke-width="1.2"/>
<line x1="172.8" y1="983.5" x2="181.8" y2="983.5" stroke="#000" stroke-width="1.2"/>
<g fill="#000"><circle cx="148.7" cy="980.9" r="1.9"/><circle cx="148.7" cy="997.9" r="1.9"/><circle cx="148.7" cy="1060.3" r="1.9"/><circle cx="148.7" cy="1065.0" r="1.9"/><circle cx="143.5" cy="1071.0" r="1.9"/><circle cx="153.9" cy="1072.8" r="1.9"/><circle cx="148.7" cy="1104.0" r="1.9"/><circle cx="148.7" cy="1045.5" r="1.9"/><circle cx="162.9" cy="965.3" r="1.9"/><circle cx="162.9" cy="981.2" r="1.9"/><circle cx="162.9" cy="986.1" r="1.9"/><circle cx="162.9" cy="1002.5" r="1.9"/><circle cx="162.9" cy="1021.1" r="1.9"/><circle cx="162.9" cy="1035.5" r="1.9"/><circle cx="162.9" cy="1040.3" r="1.9"/><circle cx="162.9" cy="1051.6" r="1.9"/><circle cx="162.9" cy="1061.5" r="1.9"/><circle cx="177.1" cy="938.4" r="1.9"/><circle cx="172.0" cy="967.9" r="1.9"/><circle cx="177.1" cy="967.9" r="1.9"/><circle cx="177.1" cy="970.5" r="1.9"/><circle cx="172.0" cy="988.7" r="1.9"/><circle cx="177.1" cy="989.5" r="1.9"/><circle cx="182.3" cy="988.7" r="1.9"/><circle cx="174.7" cy="1004.3" r="1.9"/><circle cx="179.9" cy="1001.2" r="1.9"/></g>
<rect x="199.0" y="993.0" width="13.9" height="170.2" fill="#dddddd" stroke="#1a1a1a" stroke-width="1.4"/>
<rect x="213.4" y="985.7" width="13.9" height="177.5" fill="#c8dcf1" stroke="#1a1a1a" stroke-width="1.4"/>
<rect x="227.8" y="944.5" width="13.9" height="218.7" fill="#5b85c2" stroke="#1a1a1a" stroke-width="1.4"/>
<line x1="205.9" y1="985.7" x2="205.9" y2="1000.8" stroke="#000" stroke-width="1.2"/>
<line x1="201.4" y1="985.7" x2="210.4" y2="985.7" stroke="#000" stroke-width="1.2"/>
<line x1="201.4" y1="1000.8" x2="210.4" y2="1000.8" stroke="#000" stroke-width="1.2"/>
<line x1="220.3" y1="978.8" x2="220.3" y2="992.7" stroke="#000" stroke-width="1.2"/>
<line x1="215.8" y1="978.8" x2="224.8" y2="978.8" stroke="#000" stroke-width="1.2"/>
<line x1="215.8" y1="992.7" x2="224.8" y2="992.7" stroke="#000" stroke-width="1.2"/>
<line x1="234.8" y1="937.2" x2="234.8" y2="955.0" stroke="#000" stroke-width="1.2"/>
<line x1="230.2" y1="937.2" x2="239.2" y2="937.2" stroke="#000" stroke-width="1.2"/>
<line x1="230.2" y1="955.0" x2="239.2" y2="955.0" stroke="#000" stroke-width="1.2"/>
<g fill="#000"><circle cx="205.9" cy="963.5" r="1.9"/><circle cx="205.9" cy="968.7" r="1.9"/><circle cx="200.7" cy="995.6" r="1.9"/><circle cx="205.9" cy="992.1" r="1.9"/><circle cx="211.1" cy="995.3" r="1.9"/><circle cx="205.9" cy="1008.6" r="1.9"/><circle cx="205.9" cy="1013.8" r="1.9"/><circle cx="200.7" cy="1016.9" r="1.9"/><circle cx="205.9" cy="1015.5" r="1.9"/><circle cx="211.1" cy="1016.9" r="1.9"/><circle cx="220.1" cy="961.8" r="1.9"/><circle cx="220.1" cy="966.1" r="1.9"/><circle cx="214.9" cy="973.9" r="1.9"/><circle cx="225.3" cy="976.9" r="1.9"/><circle cx="220.1" cy="988.7" r="1.9"/><circle cx="214.9" cy="999.1" r="1.9"/><circle cx="225.3" cy="998.2" r="1.9"/><circle cx="220.1" cy="1019.5" r="1.9"/><circle cx="220.1" cy="1026.8" r="1.9"/><circle cx="234.5" cy="908.1" r="1.9"/><circle cx="229.3" cy="940.5" r="1.9"/><circle cx="239.7" cy="942.7" r="1.9"/><circle cx="234.5" cy="944.5" r="1.9"/><circle cx="231.9" cy="952.3" r="1.9"/><circle cx="237.1" cy="952.3" r="1.9"/><circle cx="229.3" cy="963.0" r="1.9"/><circle cx="234.5" cy="960.1" r="1.9"/><circle cx="239.7" cy="960.4" r="1.9"/></g>
<rect x="256.2" y="1048.5" width="13.9" height="114.7" fill="#dddddd" stroke="#1a1a1a" stroke-width="1.4"/>
<rect x="270.6" y="1036.3" width="13.9" height="126.9" fill="#c8dcf1" stroke="#1a1a1a" stroke-width="1.4"/>
<rect x="285.0" y="1000.8" width="13.9" height="162.4" fill="#5b85c2" stroke="#1a1a1a" stroke-width="1.4"/>
<line x1="263.1" y1="1040.3" x2="263.1" y2="1058.0" stroke="#000" stroke-width="1.2"/>
<line x1="258.6" y1="1040.3" x2="267.6" y2="1040.3" stroke="#000" stroke-width="1.2"/>
<line x1="258.6" y1="1058.0" x2="267.6" y2="1058.0" stroke="#000" stroke-width="1.2"/>
<line x1="277.5" y1="1028.5" x2="277.5" y2="1042.4" stroke="#000" stroke-width="1.2"/>
<line x1="273.0" y1="1028.5" x2="282.0" y2="1028.5" stroke="#000" stroke-width="1.2"/>
<line x1="273.0" y1="1042.4" x2="282.0" y2="1042.4" stroke="#000" stroke-width="1.2"/>
<line x1="291.9" y1="993.9" x2="291.9" y2="1011.2" stroke="#000" stroke-width="1.2"/>
<line x1="287.4" y1="993.9" x2="296.4" y2="993.9" stroke="#000" stroke-width="1.2"/>
<line x1="287.4" y1="1011.2" x2="296.4" y2="1011.2" stroke="#000" stroke-width="1.2"/>
<g fill="#000"><circle cx="260.5" cy="1021.6" r="1.9"/><circle cx="265.7" cy="1021.6" r="1.9"/><circle cx="263.1" cy="1036.9" r="1.9"/><circle cx="263.1" cy="1058.9" r="1.9"/><circle cx="257.9" cy="1074.0" r="1.9"/><circle cx="263.1" cy="1076.2" r="1.9"/><circle cx="268.3" cy="1074.8" r="1.9"/><circle cx="263.1" cy="1089.2" r="1.9"/><circle cx="277.3" cy="1010.3" r="1.9"/><circle cx="277.3" cy="1018.5" r="1.9"/><circle cx="277.3" cy="1027.2" r="1.9"/><circle cx="272.1" cy="1038.1" r="1.9"/><circle cx="282.5" cy="1035.1" r="1.9"/><circle cx="277.3" cy="1041.5" r="1.9"/><circle cx="277.3" cy="1047.6" r="1.9"/><circle cx="277.3" cy="1053.2" r="1.9"/><circle cx="277.3" cy="1089.2" r="1.9"/><circle cx="291.7" cy="963.0" r="1.9"/><circle cx="286.9" cy="1000.8" r="1.9"/><circle cx="291.7" cy="999.1" r="1.9"/><circle cx="296.9" cy="1001.2" r="1.9"/><circle cx="291.7" cy="1004.3" r="1.9"/><circle cx="291.7" cy="1009.1" r="1.9"/><circle cx="291.7" cy="1015.2" r="1.9"/><circle cx="291.7" cy="1032.5" r="1.9"/><circle cx="291.7" cy="1037.7" r="1.9"/></g>
<rect x="313.4" y="953.7" width="13.9" height="209.5" fill="#dddddd" stroke="#1a1a1a" stroke-width="1.4"/>
<rect x="327.8" y="949.3" width="13.9" height="213.9" fill="#c8dcf1" stroke="#1a1a1a" stroke-width="1.4"/>
<rect x="342.2" y="902.0" width="13.9" height="261.2" fill="#5b85c2" stroke="#1a1a1a" stroke-width="1.4"/>
<line x1="320.3" y1="943.6" x2="320.3" y2="954.0" stroke="#000" stroke-width="1.2"/>
<line x1="315.8" y1="943.6" x2="324.8" y2="943.6" stroke="#000" stroke-width="1.2"/>
<line x1="315.8" y1="954.0" x2="324.8" y2="954.0" stroke="#000" stroke-width="1.2"/>
<line x1="334.7" y1="942.4" x2="334.7" y2="956.3" stroke="#000" stroke-width="1.2"/>
<line x1="330.2" y1="942.4" x2="339.2" y2="942.4" stroke="#000" stroke-width="1.2"/>
<line x1="330.2" y1="956.3" x2="339.2" y2="956.3" stroke="#000" stroke-width="1.2"/>
<line x1="349.1" y1="891.6" x2="349.1" y2="913.3" stroke="#000" stroke-width="1.2"/>
<line x1="344.6" y1="891.6" x2="353.6" y2="891.6" stroke="#000" stroke-width="1.2"/>
<line x1="344.6" y1="913.3" x2="353.6" y2="913.3" stroke="#000" stroke-width="1.2"/>
<g fill="#000"><circle cx="315.1" cy="932.0" r="1.9"/><circle cx="315.1" cy="945.0" r="1.9"/><circle cx="320.3" cy="946.7" r="1.9"/><circle cx="325.5" cy="947.1" r="1.9"/><circle cx="315.1" cy="951.4" r="1.9"/><circle cx="320.3" cy="959.2" r="1.9"/><circle cx="320.3" cy="967.2" r="1.9"/><circle cx="320.3" cy="974.8" r="1.9"/><circle cx="326.0" cy="928.9" r="1.9"/><circle cx="329.3" cy="927.5" r="1.9"/><circle cx="339.7" cy="929.4" r="1.9"/><circle cx="334.5" cy="934.6" r="1.9"/><circle cx="334.5" cy="943.6" r="1.9"/><circle cx="334.5" cy="955.7" r="1.9"/><circle cx="329.3" cy="967.5" r="1.9"/><circle cx="339.7" cy="964.4" r="1.9"/><circle cx="334.5" cy="977.9" r="1.9"/><circle cx="334.5" cy="983.1" r="1.9"/><circle cx="348.9" cy="857.8" r="1.9"/><circle cx="348.9" cy="890.7" r="1.9"/><circle cx="348.9" cy="904.1" r="1.9"/><circle cx="348.9" cy="915.9" r="1.9"/><circle cx="343.7" cy="919.3" r="1.9"/><circle cx="348.9" cy="921.1" r="1.9"/><circle cx="354.5" cy="919.3" r="1.9"/><circle cx="343.7" cy="923.7" r="1.9"/><circle cx="354.5" cy="922.5" r="1.9"/></g>
<rect x="370.6" y="993.9" width="13.9" height="169.3" fill="#dddddd" stroke="#1a1a1a" stroke-width="1.4"/>
<rect x="385.0" y="989.5" width="13.9" height="173.7" fill="#c8dcf1" stroke="#1a1a1a" stroke-width="1.4"/>
<rect x="399.4" y="951.0" width="13.9" height="212.2" fill="#5b85c2" stroke="#1a1a1a" stroke-width="1.4"/>
<line x1="377.5" y1="987.8" x2="377.5" y2="998.2" stroke="#000" stroke-width="1.2"/>
<line x1="373.0" y1="987.8" x2="382.0" y2="987.8" stroke="#000" stroke-width="1.2"/>
<line x1="373.0" y1="998.2" x2="382.0" y2="998.2" stroke="#000" stroke-width="1.2"/>
<line x1="391.9" y1="983.5" x2="391.9" y2="994.7" stroke="#000" stroke-width="1.2"/>
<line x1="387.4" y1="983.5" x2="396.4" y2="983.5" stroke="#000" stroke-width="1.2"/>
<line x1="387.4" y1="994.7" x2="396.4" y2="994.7" stroke="#000" stroke-width="1.2"/>
<line x1="406.3" y1="936.3" x2="406.3" y2="973.1" stroke="#000" stroke-width="1.2"/>
<line x1="401.8" y1="936.3" x2="410.8" y2="936.3" stroke="#000" stroke-width="1.2"/>
<line x1="401.8" y1="973.1" x2="410.8" y2="973.1" stroke="#000" stroke-width="1.2"/>
<g fill="#000"><circle cx="377.9" cy="973.1" r="1.9"/><circle cx="377.9" cy="977.4" r="1.9"/><circle cx="375.3" cy="986.9" r="1.9"/><circle cx="380.5" cy="987.8" r="1.9"/><circle cx="377.9" cy="995.6" r="1.9"/><circle cx="375.3" cy="1001.3" r="1.9"/><circle cx="380.5" cy="1003.4" r="1.9"/><circle cx="377.9" cy="1008.6" r="1.9"/><circle cx="372.7" cy="1012.1" r="1.9"/><circle cx="383.1" cy="1012.1" r="1.9"/><circle cx="391.7" cy="968.2" r="1.9"/><circle cx="386.5" cy="978.6" r="1.9"/><circle cx="396.9" cy="976.5" r="1.9"/><circle cx="391.7" cy="986.9" r="1.9"/><circle cx="391.7" cy="990.1" r="1.9"/><circle cx="391.7" cy="1006.9" r="1.9"/><circle cx="391.7" cy="1013.8" r="1.9"/><circle cx="391.7" cy="1023.9" r="1.9"/><circle cx="406.1" cy="893.0" r="1.9"/><circle cx="406.1" cy="945.3" r="1.9"/><circle cx="406.1" cy="952.3" r="1.9"/><circle cx="406.1" cy="966.5" r="1.9"/><circle cx="406.1" cy="971.3" r="1.9"/><circle cx="401.3" cy="984.0" r="1.9"/><circle cx="401.3" cy="990.4" r="1.9"/><circle cx="411.7" cy="984.0" r="1.9"/><circle cx="411.7" cy="990.4" r="1.9"/></g>
<rect x="428.3" y="960.3" width="13.9" height="202.9" fill="#dddddd" stroke="#1a1a1a" stroke-width="1.4"/>
<rect x="442.7" y="958.9" width="13.9" height="204.3" fill="#c8dcf1" stroke="#1a1a1a" stroke-width="1.4"/>
<rect x="457.1" y="904.5" width="13.9" height="258.7" fill="#5b85c2" stroke="#1a1a1a" stroke-width="1.4"/>
<line x1="435.2" y1="951.8" x2="435.2" y2="969.3" stroke="#000" stroke-width="1.2"/>
<line x1="430.8" y1="951.8" x2="439.8" y2="951.8" stroke="#000" stroke-width="1.2"/>
<line x1="430.8" y1="969.3" x2="439.8" y2="969.3" stroke="#000" stroke-width="1.2"/>
<line x1="449.6" y1="952.9" x2="449.6" y2="964.6" stroke="#000" stroke-width="1.2"/>
<line x1="445.1" y1="952.9" x2="454.1" y2="952.9" stroke="#000" stroke-width="1.2"/>
<line x1="445.1" y1="964.6" x2="454.1" y2="964.6" stroke="#000" stroke-width="1.2"/>
<line x1="464.1" y1="889.9" x2="464.1" y2="925.9" stroke="#000" stroke-width="1.2"/>
<line x1="459.6" y1="889.9" x2="468.6" y2="889.9" stroke="#000" stroke-width="1.2"/>
<line x1="459.6" y1="925.9" x2="468.6" y2="925.9" stroke="#000" stroke-width="1.2"/>
<g fill="#000"><circle cx="434.6" cy="929.3" r="1.9"/><circle cx="434.6" cy="933.4" r="1.9"/><circle cx="434.6" cy="947.0" r="1.9"/><circle cx="434.6" cy="967.1" r="1.9"/><circle cx="428.9" cy="979.7" r="1.9"/><circle cx="434.6" cy="979.7" r="1.9"/><circle cx="440.2" cy="982.2" r="1.9"/><circle cx="434.6" cy="985.4" r="1.9"/><circle cx="434.6" cy="991.1" r="1.9"/><circle cx="444.0" cy="942.5" r="1.9"/><circle cx="449.1" cy="942.3" r="1.9"/><circle cx="454.8" cy="939.5" r="1.9"/><circle cx="444.0" cy="958.6" r="1.9"/><circle cx="449.1" cy="960.8" r="1.9"/><circle cx="444.0" cy="969.9" r="1.9"/><circle cx="454.8" cy="973.5" r="1.9"/><circle cx="449.1" cy="975.4" r="1.9"/><circle cx="449.1" cy="994.5" r="1.9"/><circle cx="463.9" cy="844.2" r="1.9"/><circle cx="461.0" cy="914.0" r="1.9"/><circle cx="466.3" cy="913.0" r="1.9"/><circle cx="458.2" cy="938.5" r="1.9"/><circle cx="463.9" cy="931.5" r="1.9"/><circle cx="458.2" cy="927.8" r="1.9"/><circle cx="463.9" cy="926.8" r="1.9"/><circle cx="469.0" cy="929.3" r="1.9"/><circle cx="469.0" cy="934.7" r="1.9"/></g>
<rect x="485.2" y="1052.1" width="13.9" height="111.1" fill="#dddddd" stroke="#1a1a1a" stroke-width="1.4"/>
<rect x="499.6" y="1043.6" width="13.9" height="119.6" fill="#c8dcf1" stroke="#1a1a1a" stroke-width="1.4"/>
<rect x="514.0" y="973.5" width="13.9" height="189.7" fill="#5b85c2" stroke="#1a1a1a" stroke-width="1.4"/>
<line x1="492.1" y1="1042.7" x2="492.1" y2="1062.3" stroke="#000" stroke-width="1.2"/>
<line x1="487.6" y1="1042.7" x2="496.6" y2="1042.7" stroke="#000" stroke-width="1.2"/>
<line x1="487.6" y1="1062.3" x2="496.6" y2="1062.3" stroke="#000" stroke-width="1.2"/>
<line x1="506.5" y1="1034.9" x2="506.5" y2="1051.0" stroke="#000" stroke-width="1.2"/>
<line x1="502.0" y1="1034.9" x2="511.0" y2="1034.9" stroke="#000" stroke-width="1.2"/>
<line x1="502.0" y1="1051.0" x2="511.0" y2="1051.0" stroke="#000" stroke-width="1.2"/>
<line x1="521.0" y1="954.6" x2="521.0" y2="1007.1" stroke="#000" stroke-width="1.2"/>
<line x1="516.5" y1="954.6" x2="525.5" y2="954.6" stroke="#000" stroke-width="1.2"/>
<line x1="516.5" y1="1007.1" x2="525.5" y2="1007.1" stroke="#000" stroke-width="1.2"/>
<g fill="#000"><circle cx="492.2" cy="1011.9" r="1.9"/><circle cx="487.1" cy="1044.4" r="1.9"/><circle cx="497.5" cy="1043.6" r="1.9"/><circle cx="487.1" cy="1051.0" r="1.9"/><circle cx="497.5" cy="1049.7" r="1.9"/><circle cx="492.2" cy="1068.6" r="1.9"/><circle cx="492.2" cy="1080.5" r="1.9"/><circle cx="487.1" cy="1093.2" r="1.9"/><circle cx="497.5" cy="1091.3" r="1.9"/><circle cx="506.4" cy="1012.4" r="1.9"/><circle cx="506.4" cy="1019.4" r="1.9"/><circle cx="501.7" cy="1039.3" r="1.9"/><circle cx="511.7" cy="1041.7" r="1.9"/><circle cx="501.7" cy="1055.3" r="1.9"/><circle cx="511.7" cy="1053.8" r="1.9"/><circle cx="506.4" cy="1078.0" r="1.9"/><circle cx="506.4" cy="1099.8" r="1.9"/><circle cx="521.0" cy="903.2" r="1.9"/><circle cx="521.0" cy="976.5" r="1.9"/><circle cx="515.9" cy="993.5" r="1.9"/><circle cx="526.3" cy="994.3" r="1.9"/><circle cx="521.0" cy="1011.3" r="1.9"/><circle cx="515.9" cy="1024.5" r="1.9"/><circle cx="526.3" cy="1021.3" r="1.9"/><circle cx="521.0" cy="1032.1" r="1.9"/><circle cx="521.0" cy="1039.3" r="1.9"/></g>
<rect x="542.7" y="1053.1" width="13.9" height="110.1" fill="#dddddd" stroke="#1a1a1a" stroke-width="1.4"/>
<rect x="557.1" y="1049.7" width="13.9" height="113.5" fill="#c8dcf1" stroke="#1a1a1a" stroke-width="1.4"/>
<rect x="571.5" y="1002.4" width="13.9" height="160.8" fill="#5b85c2" stroke="#1a1a1a" stroke-width="1.4"/>
<line x1="549.7" y1="1043.6" x2="549.7" y2="1053.8" stroke="#000" stroke-width="1.2"/>
<line x1="545.2" y1="1043.6" x2="554.2" y2="1043.6" stroke="#000" stroke-width="1.2"/>
<line x1="545.2" y1="1053.8" x2="554.2" y2="1053.8" stroke="#000" stroke-width="1.2"/>
<line x1="564.1" y1="1041.2" x2="564.1" y2="1057.2" stroke="#000" stroke-width="1.2"/>
<line x1="559.6" y1="1041.2" x2="568.6" y2="1041.2" stroke="#000" stroke-width="1.2"/>
<line x1="559.6" y1="1057.2" x2="568.6" y2="1057.2" stroke="#000" stroke-width="1.2"/>
<line x1="578.5" y1="988.2" x2="578.5" y2="1020.8" stroke="#000" stroke-width="1.2"/>
<line x1="574.0" y1="988.2" x2="583.0" y2="988.2" stroke="#000" stroke-width="1.2"/>
<line x1="574.0" y1="1020.8" x2="583.0" y2="1020.8" stroke="#000" stroke-width="1.2"/>
<g fill="#000"><circle cx="549.5" cy="1029.8" r="1.9"/><circle cx="544.2" cy="1039.7" r="1.9"/><circle cx="555.0" cy="1041.6" r="1.9"/><circle cx="544.2" cy="1045.0" r="1.9"/><circle cx="544.2" cy="1049.3" r="1.9"/><circle cx="549.5" cy="1051.2" r="1.9"/><circle cx="544.2" cy="1053.8" r="1.9"/><circle cx="549.5" cy="1061.4" r="1.9"/><circle cx="549.5" cy="1086.9" r="1.9"/><circle cx="563.7" cy="1013.8" r="1.9"/><circle cx="563.7" cy="1038.0" r="1.9"/><circle cx="558.4" cy="1053.8" r="1.9"/><circle cx="563.7" cy="1055.3" r="1.9"/><circle cx="569.2" cy="1051.6" r="1.9"/><circle cx="563.7" cy="1066.3" r="1.9"/><circle cx="563.7" cy="1074.6" r="1.9"/><circle cx="563.7" cy="1088.4" r="1.9"/><circle cx="580.2" cy="947.0" r="1.9"/><circle cx="580.2" cy="988.2" r="1.9"/><circle cx="580.2" cy="997.7" r="1.9"/><circle cx="575.4" cy="1021.3" r="1.9"/><circle cx="585.5" cy="1023.6" r="1.9"/><circle cx="580.2" cy="1032.7" r="1.9"/><circle cx="575.4" cy="1043.6" r="1.9"/><circle cx="585.5" cy="1045.5" r="1.9"/></g>
<rect x="599.6" y="1066.3" width="13.9" height="96.9" fill="#dddddd" stroke="#1a1a1a" stroke-width="1.4"/>
<rect x="614.0" y="1060.5" width="13.9" height="102.7" fill="#c8dcf1" stroke="#1a1a1a" stroke-width="1.4"/>
<rect x="628.4" y="1018.9" width="13.9" height="144.3" fill="#5b85c2" stroke="#1a1a1a" stroke-width="1.4"/>
<line x1="606.6" y1="1062.3" x2="606.6" y2="1071.4" stroke="#000" stroke-width="1.2"/>
<line x1="602.1" y1="1062.3" x2="611.1" y2="1062.3" stroke="#000" stroke-width="1.2"/>
<line x1="602.1" y1="1071.4" x2="611.1" y2="1071.4" stroke="#000" stroke-width="1.2"/>
<line x1="621.0" y1="1055.9" x2="621.0" y2="1065.7" stroke="#000" stroke-width="1.2"/>
<line x1="616.5" y1="1055.9" x2="625.5" y2="1055.9" stroke="#000" stroke-width="1.2"/>
<line x1="616.5" y1="1065.7" x2="625.5" y2="1065.7" stroke="#000" stroke-width="1.2"/>
<line x1="635.4" y1="1007.7" x2="635.4" y2="1032.3" stroke="#000" stroke-width="1.2"/>
<line x1="630.9" y1="1007.7" x2="639.9" y2="1007.7" stroke="#000" stroke-width="1.2"/>
<line x1="630.9" y1="1032.3" x2="639.9" y2="1032.3" stroke="#000" stroke-width="1.2"/>
<g fill="#000"><circle cx="606.6" cy="1051.6" r="1.9"/><circle cx="604.0" cy="1055.9" r="1.9"/><circle cx="609.2" cy="1055.9" r="1.9"/><circle cx="601.5" cy="1064.4" r="1.9"/><circle cx="606.6" cy="1065.7" r="1.9"/><circle cx="611.7" cy="1066.7" r="1.9"/><circle cx="606.6" cy="1071.4" r="1.9"/><circle cx="604.0" cy="1092.2" r="1.9"/><circle cx="609.2" cy="1092.2" r="1.9"/><circle cx="618.6" cy="1045.9" r="1.9"/><circle cx="623.6" cy="1046.8" r="1.9"/><circle cx="616.0" cy="1053.8" r="1.9"/><circle cx="621.2" cy="1051.0" r="1.9"/><circle cx="626.1" cy="1052.5" r="1.9"/><circle cx="621.2" cy="1061.0" r="1.9"/><circle cx="621.2" cy="1079.3" r="1.9"/><circle cx="621.2" cy="1084.3" r="1.9"/><circle cx="621.2" cy="1093.2" r="1.9"/><circle cx="635.3" cy="974.4" r="1.9"/><circle cx="635.3" cy="989.8" r="1.9"/><circle cx="635.3" cy="1022.3" r="1.9"/><circle cx="630.2" cy="1035.5" r="1.9"/><circle cx="640.6" cy="1035.5" r="1.9"/><circle cx="630.2" cy="1042.1" r="1.9"/><circle cx="640.6" cy="1041.2" r="1.9"/><circle cx="635.3" cy="1055.3" r="1.9"/><circle cx="635.3" cy="1068.0" r="1.9"/></g>
<rect x="657.1" y="1005.3" width="13.9" height="157.9" fill="#dddddd" stroke="#1a1a1a" stroke-width="1.4"/>
<rect x="671.5" y="994.9" width="13.9" height="168.3" fill="#c8dcf1" stroke="#1a1a1a" stroke-width="1.4"/>
<rect x="685.9" y="967.4" width="13.9" height="195.8" fill="#5b85c2" stroke="#1a1a1a" stroke-width="1.4"/>
<line x1="664.1" y1="1001.1" x2="664.1" y2="1009.0" stroke="#000" stroke-width="1.2"/>
<line x1="659.6" y1="1001.1" x2="668.6" y2="1001.1" stroke="#000" stroke-width="1.2"/>
<line x1="659.6" y1="1009.0" x2="668.6" y2="1009.0" stroke="#000" stroke-width="1.2"/>
<line x1="678.5" y1="991.1" x2="678.5" y2="999.6" stroke="#000" stroke-width="1.2"/>
<line x1="674.0" y1="991.1" x2="683.0" y2="991.1" stroke="#000" stroke-width="1.2"/>
<line x1="674.0" y1="999.6" x2="683.0" y2="999.6" stroke="#000" stroke-width="1.2"/>
<line x1="692.9" y1="958.0" x2="692.9" y2="978.8" stroke="#000" stroke-width="1.2"/>
<line x1="688.4" y1="958.0" x2="697.4" y2="958.0" stroke="#000" stroke-width="1.2"/>
<line x1="688.4" y1="978.8" x2="697.4" y2="978.8" stroke="#000" stroke-width="1.2"/>
<g fill="#000"><circle cx="663.9" cy="993.0" r="1.9"/><circle cx="661.4" cy="994.9" r="1.9"/><circle cx="666.4" cy="993.0" r="1.9"/><circle cx="658.6" cy="1001.1" r="1.9"/><circle cx="663.9" cy="1002.0" r="1.9"/><circle cx="669.0" cy="1002.0" r="1.9"/><circle cx="663.9" cy="1009.0" r="1.9"/><circle cx="663.9" cy="1013.8" r="1.9"/><circle cx="666.4" cy="1024.2" r="1.9"/><circle cx="662.4" cy="1027.9" r="1.9"/><circle cx="678.4" cy="977.3" r="1.9"/><circle cx="673.3" cy="986.4" r="1.9"/><circle cx="678.4" cy="986.4" r="1.9"/><circle cx="683.5" cy="987.3" r="1.9"/><circle cx="676.0" cy="992.4" r="1.9"/><circle cx="681.0" cy="992.4" r="1.9"/><circle cx="676.0" cy="997.7" r="1.9"/><circle cx="681.0" cy="996.7" r="1.9"/><circle cx="676.0" cy="1025.1" r="1.9"/><circle cx="681.0" cy="1025.1" r="1.9"/><circle cx="692.6" cy="927.2" r="1.9"/><circle cx="692.6" cy="943.3" r="1.9"/><circle cx="692.6" cy="969.3" r="1.9"/><circle cx="687.3" cy="980.3" r="1.9"/><circle cx="695.0" cy="980.3" r="1.9"/><circle cx="687.3" cy="987.3" r="1.9"/><circle cx="692.6" cy="991.1" r="1.9"/><circle cx="697.7" cy="990.1" r="1.9"/><circle cx="692.6" cy="1006.2" r="1.9"/></g>
<line x1="134.6" y1="781.8" x2="134.6" y2="1163.8" stroke="#000" stroke-width="1.5"/>
<line x1="120.4" y1="1163.4" x2="706.8" y2="1163.4" stroke="#000" stroke-width="1.5"/>
<line x1="120.4" y1="781.8" x2="134.6" y2="781.8" stroke="#000" stroke-width="1.5"/>
<text x="73.1" y="788.6" font-size="24" textLength="25.1" lengthAdjust="spacingAndGlyphs">10</text>
<text x="97.9" y="775.2" font-size="16">9</text>
<line x1="120.4" y1="877.1" x2="134.6" y2="877.1" stroke="#000" stroke-width="1.5"/>
<text x="73.1" y="883.9" font-size="24" textLength="25.1" lengthAdjust="spacingAndGlyphs">10</text>
<text x="97.9" y="870.5" font-size="16">8</text>
<line x1="120.4" y1="972.5" x2="134.6" y2="972.5" stroke="#000" stroke-width="1.5"/>
<text x="73.1" y="979.3" font-size="24" textLength="25.1" lengthAdjust="spacingAndGlyphs">10</text>
<text x="97.9" y="965.9" font-size="16">7</text>
<line x1="120.4" y1="1067.8" x2="134.6" y2="1067.8" stroke="#000" stroke-width="1.5"/>
<text x="73.1" y="1074.6" font-size="24" textLength="25.1" lengthAdjust="spacingAndGlyphs">10</text>
<text x="97.9" y="1061.2" font-size="16">6</text>
<line x1="120.4" y1="1163.2" x2="134.6" y2="1163.2" stroke="#000" stroke-width="1.5"/>
<text x="73.1" y="1170.0" font-size="24" textLength="25.1" lengthAdjust="spacingAndGlyphs">10</text>
<text x="97.9" y="1156.6" font-size="16">5</text>
<line x1="162.4" y1="1163.4" x2="162.4" y2="1177.6" stroke="#000" stroke-width="1.5"/>
<line x1="219.8" y1="1163.4" x2="219.8" y2="1177.6" stroke="#000" stroke-width="1.5"/>
<line x1="277.0" y1="1163.4" x2="277.0" y2="1177.6" stroke="#000" stroke-width="1.5"/>
<line x1="334.2" y1="1163.4" x2="334.2" y2="1177.6" stroke="#000" stroke-width="1.5"/>
<line x1="391.4" y1="1163.4" x2="391.4" y2="1177.6" stroke="#000" stroke-width="1.5"/>
<line x1="449.1" y1="1163.4" x2="449.1" y2="1177.6" stroke="#000" stroke-width="1.5"/>
<line x1="506.0" y1="1163.4" x2="506.0" y2="1177.6" stroke="#000" stroke-width="1.5"/>
<line x1="563.5" y1="1163.4" x2="563.5" y2="1177.6" stroke="#000" stroke-width="1.5"/>
<line x1="620.4" y1="1163.4" x2="620.4" y2="1177.6" stroke="#000" stroke-width="1.5"/>
<line x1="677.9" y1="1163.4" x2="677.9" y2="1177.6" stroke="#000" stroke-width="1.5"/>
<rect x="152.2" y="799.4" width="23.9" height="23.4" fill="#dddddd" stroke="#333" stroke-width="1.3"/>
<text x="192.5" y="818.9" font-size="28">Ctl</text>
<rect x="152.2" y="837.7" width="23.9" height="23.4" fill="#c8dcf1" stroke="#333" stroke-width="1.3"/>
<text x="192.5" y="857.2" font-size="28">MHS</text>
<rect x="152.2" y="876.0" width="23.9" height="23.4" fill="#5b85c2" stroke="#333" stroke-width="1.3"/>
<text x="192.5" y="895.5" font-size="28">KO</text>
<text x="54.2" y="1144.6" font-size="27" textLength="343.8" lengthAdjust="spacingAndGlyphs" transform="rotate(-90 54.2 1144.6)">Normalized measurements</text>
<text x="164.4" y="1205.5" font-size="26" text-anchor="end" textLength="91" lengthAdjust="spacingAndGlyphs" transform="rotate(-45 164.4 1205.5)">PC 42:5</text>
<text x="221.8" y="1205.5" font-size="26" text-anchor="end" textLength="91" lengthAdjust="spacingAndGlyphs" transform="rotate(-45 221.8 1205.5)">PC 40:3</text>
<text x="279.0" y="1205.5" font-size="26" text-anchor="end" textLength="90" lengthAdjust="spacingAndGlyphs" transform="rotate(-45 279.0 1205.5)">PC 32:3</text>
<text x="336.2" y="1205.5" font-size="26" text-anchor="end" textLength="239" lengthAdjust="spacingAndGlyphs" transform="rotate(-45 336.2 1205.5)">PE 36:1|PE 18:0_18:1</text>
<text x="393.4" y="1205.5" font-size="26" text-anchor="end" textLength="253" lengthAdjust="spacingAndGlyphs" transform="rotate(-45 393.4 1205.5)">PE 38:3|PE 18:0_20:3</text>
<text x="451.1" y="1205.5" font-size="26" text-anchor="end" textLength="302" lengthAdjust="spacingAndGlyphs" transform="rotate(-45 451.1 1205.5)">PE P-38:4|PE P-18:0_20:4</text>
<text x="508.0" y="1205.5" font-size="26" text-anchor="end" textLength="369" lengthAdjust="spacingAndGlyphs" transform="rotate(-45 508.0 1205.5)">Cer 34:0 O2|Cer 18:0 O2/16:0</text>
<text x="565.5" y="1205.5" font-size="26" text-anchor="end" textLength="358" lengthAdjust="spacingAndGlyphs" transform="rotate(-45 565.5 1205.5)">Cer 42:1 O2|Cer 18:0 O2/24:1</text>
<text x="622.4" y="1205.5" font-size="26" text-anchor="end" textLength="353" lengthAdjust="spacingAndGlyphs" transform="rotate(-45 622.4 1205.5)">CL 72:5|CL 18:1_18:1_18:1_18:2</text>
<text x="679.9" y="1205.5" font-size="26" text-anchor="end" textLength="357" lengthAdjust="spacingAndGlyphs" transform="rotate(-45 679.9 1205.5)">CL 72:6|CL 18:1_18:2_18:1_18:2</text>
<text x="826.3" y="731.2" font-size="42" font-weight="bold">e</text>
<text x="1031.5" y="732.4" font-size="27" text-anchor="middle" textLength="208.9" lengthAdjust="spacingAndGlyphs">Lipid subclasses</text>
<text x="1031.5" y="763.5" font-size="27" text-anchor="middle" textLength="106.2" lengthAdjust="spacingAndGlyphs">KO &gt; Ctl</text>
<path d="M1006.7,997.4 L1006.70,818.10 A179.3,179.3 0 0 1 1030.10,819.63 Z" fill="#e46aab" stroke="#111" stroke-width="1.4" stroke-linejoin="round"/>
<path d="M1006.7,997.4 L1030.10,819.63 A179.3,179.3 0 0 1 1075.32,831.75 Z" fill="#b07cb6" stroke="#111" stroke-width="1.4" stroke-linejoin="round"/>
<path d="M1006.7,997.4 L1075.32,831.75 A179.3,179.3 0 0 1 1172.35,928.78 Z" fill="#7294cc" stroke="#111" stroke-width="1.4" stroke-linejoin="round"/>
<path d="M1006.7,997.4 L1172.35,928.78 A179.3,179.3 0 0 1 897.55,1139.65 Z" fill="#00b7e2" stroke="#111" stroke-width="1.4" stroke-linejoin="round"/>
<path d="M1006.7,997.4 L897.55,1139.65 A179.3,179.3 0 0 1 828.93,974.00 Z" fill="#2db89a" stroke="#111" stroke-width="1.4" stroke-linejoin="round"/>
<path d="M1006.7,997.4 L828.93,974.00 A179.3,179.3 0 0 1 841.05,928.78 Z" fill="#2ab34b" stroke="#111" stroke-width="1.4" stroke-linejoin="round"/>
<path d="M1006.7,997.4 L841.05,928.78 A179.3,179.3 0 0 1 851.42,907.75 Z" fill="#93ad3c" stroke="#111" stroke-width="1.4" stroke-linejoin="round"/>
<path d="M1006.7,997.4 L851.42,907.75 A179.3,179.3 0 0 1 960.29,824.21 Z" fill="#d4952e" stroke="#111" stroke-width="1.4" stroke-linejoin="round"/>
<path d="M1006.7,997.4 L960.29,824.21 A179.3,179.3 0 0 1 1006.70,818.10 Z" fill="#f27a71" stroke="#111" stroke-width="1.4" stroke-linejoin="round"/>
<rect x="1241.6" y="837.6" width="24.3" height="24.0" fill="#f27a71" stroke="#222" stroke-width="1.3"/>
<text x="1279.9" y="857.1" font-size="24" textLength="116.7" lengthAdjust="spacingAndGlyphs">Ceramides</text>
<rect x="1241.6" y="876.0" width="24.3" height="24.0" fill="#d4952e" stroke="#222" stroke-width="1.3"/>
<text x="1279.8" y="895.5" font-size="24" textLength="130.8" lengthAdjust="spacingAndGlyphs">Cardiolipins</text>
<rect x="1241.6" y="914.4" width="24.3" height="24.0" fill="#93ad3c" stroke="#222" stroke-width="1.3"/>
<text x="1279.1" y="933.9" font-size="24" textLength="135.5" lengthAdjust="spacingAndGlyphs">Diglycerides</text>
<rect x="1241.6" y="952.8" width="24.3" height="24.0" fill="#2ab34b" stroke="#222" stroke-width="1.3"/>
<text x="1279.3" y="972.3" font-size="24" textLength="63.2" lengthAdjust="spacingAndGlyphs">DMPE</text>
<rect x="1241.6" y="991.2" width="24.3" height="24.0" fill="#2db89a" stroke="#222" stroke-width="1.3"/>
<text x="1279.2" y="1010.7" font-size="24" textLength="85.4" lengthAdjust="spacingAndGlyphs">EtherPE</text>
<rect x="1241.6" y="1029.6" width="24.3" height="24.0" fill="#00b7e2" stroke="#222" stroke-width="1.3"/>
<text x="1279.1" y="1049.1" font-size="24" textLength="222.2" lengthAdjust="spacingAndGlyphs">Phosphatidylcholine</text>
<rect x="1241.6" y="1068.0" width="24.3" height="24.0" fill="#7294cc" stroke="#222" stroke-width="1.3"/>
<text x="1279.1" y="1087.5" font-size="24" textLength="288.9" lengthAdjust="spacingAndGlyphs">Phosphatidylethanolamine</text>
<rect x="1241.6" y="1106.4" width="24.3" height="24.0" fill="#b07cb6" stroke="#222" stroke-width="1.3"/>
<text x="1279.1" y="1125.9" font-size="24" textLength="207.1" lengthAdjust="spacingAndGlyphs">Phosphatidylserine</text>
<rect x="1241.6" y="1144.8" width="24.3" height="24.0" fill="#e46aab" stroke="#222" stroke-width="1.3"/>
<text x="1280.0" y="1164.3" font-size="24" textLength="175.2" lengthAdjust="spacingAndGlyphs">Sphingomyelins</text>
<text x="1627.9" y="730.4" font-size="42" font-weight="bold">f</text>
<text x="1883.5" y="732.5" font-size="27" text-anchor="middle" textLength="341.0" lengthAdjust="spacingAndGlyphs">Lipid chemical enrichment</text>
<text x="1884.2" y="762.8" font-size="27" text-anchor="middle" textLength="105.8" lengthAdjust="spacingAndGlyphs">KO &gt; Ctl</text>
<rect x="1649.5" y="811.1" width="468.8" height="48.2" fill="#f8eecf" stroke="#1a1a1a" stroke-width="1.5"/>
<rect x="1649.5" y="861.2" width="257.8" height="48.2" fill="#f8eecf" stroke="#1a1a1a" stroke-width="1.5"/>
<rect x="1649.5" y="911.4" width="219.5" height="48.2" fill="#f8eecf" stroke="#1a1a1a" stroke-width="1.5"/>
<rect x="1649.5" y="961.5" width="114.9" height="48.2" fill="#f8eecf" stroke="#1a1a1a" stroke-width="1.5"/>
<rect x="1649.5" y="1011.7" width="104.3" height="48.2" fill="#f8eecf" stroke="#1a1a1a" stroke-width="1.5"/>
<rect x="1649.5" y="1061.8" width="81.2" height="48.2" fill="#f8eecf" stroke="#1a1a1a" stroke-width="1.5"/>
<rect x="1649.5" y="1112.0" width="69.0" height="48.2" fill="#f8eecf" stroke="#1a1a1a" stroke-width="1.5"/>
<rect x="1649.5" y="1162.2" width="67.8" height="48.2" fill="#f8eecf" stroke="#1a1a1a" stroke-width="1.5"/>
<rect x="1649.5" y="1212.3" width="54.3" height="48.2" fill="#f8eecf" stroke="#1a1a1a" stroke-width="1.5"/>
<rect x="1649.5" y="1262.5" width="54.3" height="48.2" fill="#f8eecf" stroke="#1a1a1a" stroke-width="1.5"/>
<rect x="1649.5" y="1312.6" width="33.7" height="48.2" fill="#f8eecf" stroke="#1a1a1a" stroke-width="1.5"/>
<line x1="1642.7" y1="835.2" x2="1649.2" y2="835.2" stroke="#000" stroke-width="1.3"/>
<text x="1662.3" y="843.8" font-size="24" textLength="369.3" lengthAdjust="spacingAndGlyphs">Unsaturated phosphatidylcholines</text>
<line x1="1642.7" y1="885.4" x2="1649.2" y2="885.4" stroke="#000" stroke-width="1.3"/>
<text x="1662.3" y="894.0" font-size="24" textLength="437.4" lengthAdjust="spacingAndGlyphs">Unsaturated phosphatidylethanolamines</text>
<line x1="1642.7" y1="935.5" x2="1649.2" y2="935.5" stroke="#000" stroke-width="1.3"/>
<text x="1662.2" y="944.1" font-size="24" textLength="203.1" lengthAdjust="spacingAndGlyphs">Phosphatidic acids</text>
<line x1="1642.7" y1="985.7" x2="1649.2" y2="985.7" stroke="#000" stroke-width="1.3"/>
<text x="1663.1" y="994.3" font-size="24" textLength="327.3" lengthAdjust="spacingAndGlyphs">Saturated phospholipid ethers</text>
<line x1="1642.7" y1="1035.8" x2="1649.2" y2="1035.8" stroke="#000" stroke-width="1.3"/>
<text x="1662.2" y="1044.4" font-size="24" textLength="230.3" lengthAdjust="spacingAndGlyphs">Phosphatidylinositols</text>
<line x1="1642.7" y1="1086.0" x2="1649.2" y2="1086.0" stroke="#000" stroke-width="1.3"/>
<text x="1663.1" y="1094.5" font-size="24" textLength="328.2" lengthAdjust="spacingAndGlyphs">Saturated phosphatidylserines</text>
<line x1="1642.7" y1="1136.1" x2="1649.2" y2="1136.1" stroke="#000" stroke-width="1.3"/>
<text x="1662.3" y="1144.7" font-size="24" textLength="355.5" lengthAdjust="spacingAndGlyphs">Unsaturated phosphatidylserines</text>
<line x1="1642.7" y1="1186.2" x2="1649.2" y2="1186.2" stroke="#000" stroke-width="1.3"/>
<text x="1662.3" y="1194.8" font-size="24" textLength="500.5" lengthAdjust="spacingAndGlyphs">Unsaturated phosphatidylethanolamine ethers</text>
<line x1="1642.7" y1="1236.4" x2="1649.2" y2="1236.4" stroke="#000" stroke-width="1.3"/>
<text x="1663.1" y="1245.0" font-size="24" textLength="410.6" lengthAdjust="spacingAndGlyphs">Saturated phosphatidylethanolamines</text>
<line x1="1642.7" y1="1286.5" x2="1649.2" y2="1286.5" stroke="#000" stroke-width="1.3"/>
<text x="1663.1" y="1295.1" font-size="24" textLength="342.9" lengthAdjust="spacingAndGlyphs">Saturated phosphatidylcholines</text>
<line x1="1642.7" y1="1336.7" x2="1649.2" y2="1336.7" stroke="#000" stroke-width="1.3"/>
<text x="1662.2" y="1345.3" font-size="24" textLength="135.7" lengthAdjust="spacingAndGlyphs">Diglycerides</text>
<line x1="1649.2" y1="782.2" x2="1649.2" y2="1385.0" stroke="#000" stroke-width="1.5"/>
<line x1="1648.5" y1="1384.5" x2="2154.5" y2="1384.5" stroke="#000" stroke-width="1.5"/>
<line x1="1649.2" y1="1384.5" x2="1649.2" y2="1398.8" stroke="#000" stroke-width="1.5"/>
<text x="1649.2" y="1434.5" font-size="22" text-anchor="middle">0</text>
<line x1="1817.6" y1="1384.5" x2="1817.6" y2="1398.8" stroke="#000" stroke-width="1.5"/>
<text x="1817.6" y="1434.5" font-size="22" text-anchor="middle">5</text>
<line x1="1985.9" y1="1384.5" x2="1985.9" y2="1398.8" stroke="#000" stroke-width="1.5"/>
<text x="1985.9" y="1434.5" font-size="22" text-anchor="middle">10</text>
<line x1="2154.2" y1="1384.5" x2="2154.2" y2="1398.8" stroke="#000" stroke-width="1.5"/>
<text x="2154.2" y="1434.5" font-size="22" text-anchor="middle">15</text>
<text x="1827" y="1468.2" font-size="27">−log<tspan font-size="18" dy="8">10</tspan><tspan dy="-8"> (FDR)</tspan></text>
<text x="-0.5" y="1541.0" font-size="42" font-weight="bold">g</text>
<text x="352.1" y="1569.5" font-size="26.5">Aβ<tspan font-size="19" dy="7">1–42</tspan><tspan dy="-7"> phagocytosis</tspan></text>
<line x1="197.4" y1="1611.4" x2="197.4" y2="1992.0" stroke="#000" stroke-width="1.5"/>
<line x1="196.7" y1="1991.5" x2="754.4" y2="1991.5" stroke="#000" stroke-width="1.5"/>
<line x1="188.2" y1="1611.4" x2="197.4" y2="1611.4" stroke="#000" stroke-width="1.5"/>
<text x="107.9" y="1617.2" font-size="22" textLength="57.5" lengthAdjust="spacingAndGlyphs">1 × 10</text>
<text x="167.5" y="1605.9" font-size="14">6</text>
<line x1="188.2" y1="1687.9" x2="197.4" y2="1687.9" stroke="#000" stroke-width="1.5"/>
<text x="106.6" y="1693.7" font-size="22" textLength="58.8" lengthAdjust="spacingAndGlyphs">8 × 10</text>
<text x="167.5" y="1682.4" font-size="14">5</text>
<line x1="188.2" y1="1763.5" x2="197.4" y2="1763.5" stroke="#000" stroke-width="1.5"/>
<text x="106.4" y="1769.3" font-size="22" textLength="59.0" lengthAdjust="spacingAndGlyphs">6 × 10</text>
<text x="167.5" y="1758.0" font-size="14">5</text>
<line x1="188.2" y1="1839.6" x2="197.4" y2="1839.6" stroke="#000" stroke-width="1.5"/>
<text x="107.0" y="1845.4" font-size="22" textLength="58.4" lengthAdjust="spacingAndGlyphs">4 × 10</text>
<text x="167.5" y="1834.1" font-size="14">5</text>
<line x1="188.2" y1="1915.9" x2="197.4" y2="1915.9" stroke="#000" stroke-width="1.5"/>
<text x="106.4" y="1921.7" font-size="22" textLength="59.0" lengthAdjust="spacingAndGlyphs">2 × 10</text>
<text x="167.5" y="1910.4" font-size="14">5</text>
<text x="173.7" y="1998.7" font-size="22" text-anchor="end">0</text>
<line x1="197.4" y1="1991.5" x2="197.4" y2="2000.0" stroke="#000" stroke-width="1.5"/>
<text x="197.4" y="2029.8" font-size="22" text-anchor="middle">0</text>
<line x1="321.2" y1="1991.5" x2="321.2" y2="2000.0" stroke="#000" stroke-width="1.5"/>
<text x="321.2" y="2029.8" font-size="22" text-anchor="middle">1</text>
<line x1="445.1" y1="1991.5" x2="445.1" y2="2000.0" stroke="#000" stroke-width="1.5"/>
<text x="445.1" y="2029.8" font-size="22" text-anchor="middle">2</text>
<line x1="568.9" y1="1991.5" x2="568.9" y2="2000.0" stroke="#000" stroke-width="1.5"/>
<text x="568.9" y="2029.8" font-size="22" text-anchor="middle">3</text>
<line x1="692.8" y1="1991.5" x2="692.8" y2="2000.0" stroke="#000" stroke-width="1.5"/>
<text x="692.8" y="2029.8" font-size="22" text-anchor="middle">4</text>
<text x="425.4" y="2069.8" font-size="26.5" textLength="102.9" lengthAdjust="spacingAndGlyphs">Time (h)</text>
<text transform="translate(56.6 1955.2) rotate(-90)" font-size="26.5" textLength="311.6" lengthAdjust="spacingAndGlyphs">Total integrated intensity</text>
<text transform="translate(87 1952.5) rotate(-90)" font-size="26.5" textLength="286.6" lengthAdjust="spacingAndGlyphs">(GCU × µm<tspan font-size="17" dy="-10">2</tspan><tspan dy="10"> per image)</tspan></text>
<polyline points="197.4,1990.5 218.1,1990.1 238.7,1987.6 259.4,1981.3 280.0,1968.3 300.6,1952.5 321.3,1932.6 341.9,1915.6 362.6,1900.9 383.2,1882.9 403.9,1865.9 424.5,1850.8 445.2,1836.4 465.9,1821.3 486.5,1806.7 507.1,1796.0 527.8,1784.0 548.4,1771.8 569.1,1759.7 589.8,1748.3 610.4,1734.1 631.0,1725.6 651.7,1714.7 672.4,1702.9 693.0,1694.8 713.6,1685.0" fill="none" stroke="#111" stroke-width="2.3" stroke-linejoin="round"/>
<polyline points="197.4,1990.5 218.1,1990.5 238.7,1990.2 259.4,1987.8 280.0,1978.4 300.6,1964.8 321.3,1952.9 341.9,1941.5 362.6,1930.2 383.2,1919.2 403.9,1909.4 424.5,1899.0 445.2,1891.4 465.9,1883.9 486.5,1875.0 507.1,1867.4 527.8,1860.2 548.4,1852.7 569.1,1845.1 589.8,1837.9 610.4,1830.5 631.0,1823.7 651.7,1817.1 672.4,1810.7 693.0,1803.9 713.6,1797.8" fill="none" stroke="#111" stroke-width="2.3" stroke-linejoin="round"/>
<polyline points="197.4,1991.0 218.1,1991.0 238.7,1990.5 259.4,1989.0 280.0,1986.5 300.6,1983.0 321.3,1979.0 341.9,1975.1 362.6,1971.5 383.2,1968.1 403.9,1964.8 424.5,1961.9 445.2,1959.3 465.9,1956.1 486.5,1952.3 507.1,1949.5 527.8,1947.2 548.4,1944.3 569.1,1942.1 589.8,1939.6 610.4,1937.7 631.0,1935.5 651.7,1933.0 672.4,1930.7 693.0,1928.6 713.6,1926.4" fill="none" stroke="#111" stroke-width="2.3" stroke-linejoin="round"/>
<path d="M403.9,1858.1 V1873.7 M396.8,1858.1 H411.0 M396.8,1873.7 H411.0" stroke="#333" stroke-width="1.5" fill="none"/>
<path d="M424.5,1842.3 V1859.3 M417.4,1842.3 H431.6 M417.4,1859.3 H431.6" stroke="#333" stroke-width="1.5" fill="none"/>
<path d="M445.2,1826.8 V1846.0 M438.1,1826.8 H452.3 M438.1,1846.0 H452.3" stroke="#333" stroke-width="1.5" fill="none"/>
<path d="M465.9,1810.5 V1832.1 M458.8,1810.5 H473.0 M458.8,1832.1 H473.0" stroke="#333" stroke-width="1.5" fill="none"/>
<path d="M486.5,1794.7 V1818.7 M479.4,1794.7 H493.6 M479.4,1818.7 H493.6" stroke="#333" stroke-width="1.5" fill="none"/>
<path d="M507.1,1784.4 V1807.6 M500.0,1784.4 H514.2 M500.0,1807.6 H514.2" stroke="#333" stroke-width="1.5" fill="none"/>
<path d="M527.8,1771.0 V1797.0 M520.7,1771.0 H534.9 M520.7,1797.0 H534.9" stroke="#333" stroke-width="1.5" fill="none"/>
<path d="M548.4,1758.6 V1785.0 M541.3,1758.6 H555.5 M541.3,1785.0 H555.5" stroke="#333" stroke-width="1.5" fill="none"/>
<path d="M569.1,1746.0 V1773.4 M562.0,1746.0 H576.2 M562.0,1773.4 H576.2" stroke="#333" stroke-width="1.5" fill="none"/>
<path d="M589.8,1733.5 V1763.1 M582.6,1733.5 H596.9 M582.6,1763.1 H596.9" stroke="#333" stroke-width="1.5" fill="none"/>
<path d="M610.4,1718.2 V1750.0 M603.3,1718.2 H617.5 M603.3,1750.0 H617.5" stroke="#333" stroke-width="1.5" fill="none"/>
<path d="M631.0,1710.0 V1741.2 M623.9,1710.0 H638.1 M623.9,1741.2 H638.1" stroke="#333" stroke-width="1.5" fill="none"/>
<path d="M651.7,1698.2 V1731.2 M644.6,1698.2 H658.8 M644.6,1731.2 H658.8" stroke="#333" stroke-width="1.5" fill="none"/>
<path d="M672.4,1685.4 V1720.4 M665.2,1685.4 H679.5 M665.2,1720.4 H679.5" stroke="#333" stroke-width="1.5" fill="none"/>
<path d="M693.0,1675.4 V1714.2 M685.9,1675.4 H700.1 M685.9,1714.2 H700.1" stroke="#333" stroke-width="1.5" fill="none"/>
<path d="M713.6,1666.0 V1704.0 M706.5,1666.0 H720.8 M706.5,1704.0 H720.8" stroke="#333" stroke-width="1.5" fill="none"/>
<path d="M582.6,1829.6 H596.9 M582.6,1846.2 H596.9" stroke="#333" stroke-width="1.5" fill="none"/>
<path d="M603.3,1822.2 H617.5 M603.3,1838.8 H617.5" stroke="#333" stroke-width="1.5" fill="none"/>
<path d="M623.9,1815.4 H638.1 M623.9,1832.0 H638.1" stroke="#333" stroke-width="1.5" fill="none"/>
<path d="M644.6,1808.8 H658.8 M644.6,1825.4 H658.8" stroke="#333" stroke-width="1.5" fill="none"/>
<path d="M665.2,1802.4 H679.5 M665.2,1819.0 H679.5" stroke="#333" stroke-width="1.5" fill="none"/>
<path d="M685.9,1795.6 H700.1 M685.9,1812.2 H700.1" stroke="#333" stroke-width="1.5" fill="none"/>
<path d="M706.5,1789.5 H720.8 M706.5,1806.1 H720.8" stroke="#333" stroke-width="1.5" fill="none"/>
<path d="M197.4,1983.5 L204.5,1997.0 L190.3,1997.0 Z" fill="#3f6db5" stroke="#222" stroke-width="1.4" stroke-linejoin="round"/><path d="M218.1,1983.5 L225.2,1997.0 L211.0,1997.0 Z" fill="#3f6db5" stroke="#222" stroke-width="1.4" stroke-linejoin="round"/><path d="M238.7,1983.0 L245.8,1996.5 L231.6,1996.5 Z" fill="#3f6db5" stroke="#222" stroke-width="1.4" stroke-linejoin="round"/><path d="M259.4,1981.5 L266.5,1995.0 L252.3,1995.0 Z" fill="#3f6db5" stroke="#222" stroke-width="1.4" stroke-linejoin="round"/><path d="M280.0,1979.0 L287.1,1992.5 L272.9,1992.5 Z" fill="#3f6db5" stroke="#222" stroke-width="1.4" stroke-linejoin="round"/><path d="M300.6,1975.5 L307.8,1989.0 L293.5,1989.0 Z" fill="#3f6db5" stroke="#222" stroke-width="1.4" stroke-linejoin="round"/><path d="M321.3,1971.5 L328.4,1985.0 L314.2,1985.0 Z" fill="#3f6db5" stroke="#222" stroke-width="1.4" stroke-linejoin="round"/><path d="M341.9,1967.6 L349.1,1981.1 L334.8,1981.1 Z" fill="#3f6db5" stroke="#222" stroke-width="1.4" stroke-linejoin="round"/><path d="M362.6,1964.0 L369.7,1977.5 L355.5,1977.5 Z" fill="#3f6db5" stroke="#222" stroke-width="1.4" stroke-linejoin="round"/><path d="M383.2,1960.6 L390.4,1974.1 L376.1,1974.1 Z" fill="#3f6db5" stroke="#222" stroke-width="1.4" stroke-linejoin="round"/><path d="M403.9,1957.3 L411.0,1970.8 L396.8,1970.8 Z" fill="#3f6db5" stroke="#222" stroke-width="1.4" stroke-linejoin="round"/><path d="M424.5,1954.4 L431.6,1967.9 L417.4,1967.9 Z" fill="#3f6db5" stroke="#222" stroke-width="1.4" stroke-linejoin="round"/><path d="M445.2,1951.8 L452.3,1965.3 L438.1,1965.3 Z" fill="#3f6db5" stroke="#222" stroke-width="1.4" stroke-linejoin="round"/><path d="M465.9,1948.6 L473.0,1962.1 L458.8,1962.1 Z" fill="#3f6db5" stroke="#222" stroke-width="1.4" stroke-linejoin="round"/><path d="M486.5,1944.8 L493.6,1958.3 L479.4,1958.3 Z" fill="#3f6db5" stroke="#222" stroke-width="1.4" stroke-linejoin="round"/><path d="M507.1,1942.0 L514.2,1955.5 L500.0,1955.5 Z" fill="#3f6db5" stroke="#222" stroke-width="1.4" stroke-linejoin="round"/><path d="M527.8,1939.7 L534.9,1953.2 L520.7,1953.2 Z" fill="#3f6db5" stroke="#222" stroke-width="1.4" stroke-linejoin="round"/><path d="M548.4,1936.8 L555.5,1950.3 L541.3,1950.3 Z" fill="#3f6db5" stroke="#222" stroke-width="1.4" stroke-linejoin="round"/><path d="M569.1,1934.6 L576.2,1948.1 L562.0,1948.1 Z" fill="#3f6db5" stroke="#222" stroke-width="1.4" stroke-linejoin="round"/><path d="M589.8,1932.1 L596.9,1945.6 L582.6,1945.6 Z" fill="#3f6db5" stroke="#222" stroke-width="1.4" stroke-linejoin="round"/><path d="M610.4,1930.2 L617.5,1943.7 L603.3,1943.7 Z" fill="#3f6db5" stroke="#222" stroke-width="1.4" stroke-linejoin="round"/><path d="M631.0,1928.0 L638.1,1941.5 L623.9,1941.5 Z" fill="#3f6db5" stroke="#222" stroke-width="1.4" stroke-linejoin="round"/><path d="M651.7,1925.5 L658.8,1939.0 L644.6,1939.0 Z" fill="#3f6db5" stroke="#222" stroke-width="1.4" stroke-linejoin="round"/><path d="M672.4,1923.2 L679.5,1936.7 L665.2,1936.7 Z" fill="#3f6db5" stroke="#222" stroke-width="1.4" stroke-linejoin="round"/><path d="M693.0,1921.1 L700.1,1934.6 L685.9,1934.6 Z" fill="#3f6db5" stroke="#222" stroke-width="1.4" stroke-linejoin="round"/><path d="M713.6,1918.9 L720.8,1932.4 L706.5,1932.4 Z" fill="#3f6db5" stroke="#222" stroke-width="1.4" stroke-linejoin="round"/><rect x="190.3" y="1983.4" width="14.2" height="14.2" fill="#bcd9f2" stroke="#333" stroke-width="1.6"/><rect x="211.0" y="1983.4" width="14.2" height="14.2" fill="#bcd9f2" stroke="#333" stroke-width="1.6"/><rect x="231.6" y="1983.1" width="14.2" height="14.2" fill="#bcd9f2" stroke="#333" stroke-width="1.6"/><rect x="252.3" y="1980.7" width="14.2" height="14.2" fill="#bcd9f2" stroke="#333" stroke-width="1.6"/><rect x="272.9" y="1971.3" width="14.2" height="14.2" fill="#bcd9f2" stroke="#333" stroke-width="1.6"/><rect x="293.5" y="1957.7" width="14.2" height="14.2" fill="#bcd9f2" stroke="#333" stroke-width="1.6"/><rect x="314.2" y="1945.8" width="14.2" height="14.2" fill="#bcd9f2" stroke="#333" stroke-width="1.6"/><rect x="334.8" y="1934.4" width="14.2" height="14.2" fill="#bcd9f2" stroke="#333" stroke-width="1.6"/><rect x="355.5" y="1923.1" width="14.2" height="14.2" fill="#bcd9f2" stroke="#333" stroke-width="1.6"/><rect x="376.1" y="1912.1" width="14.2" height="14.2" fill="#bcd9f2" stroke="#333" stroke-width="1.6"/><rect x="396.8" y="1902.3" width="14.2" height="14.2" fill="#bcd9f2" stroke="#333" stroke-width="1.6"/><rect x="417.4" y="1891.9" width="14.2" height="14.2" fill="#bcd9f2" stroke="#333" stroke-width="1.6"/><rect x="438.1" y="1884.3" width="14.2" height="14.2" fill="#bcd9f2" stroke="#333" stroke-width="1.6"/><rect x="458.8" y="1876.8" width="14.2" height="14.2" fill="#bcd9f2" stroke="#333" stroke-width="1.6"/><rect x="479.4" y="1867.9" width="14.2" height="14.2" fill="#bcd9f2" stroke="#333" stroke-width="1.6"/><rect x="500.0" y="1860.3" width="14.2" height="14.2" fill="#bcd9f2" stroke="#333" stroke-width="1.6"/><rect x="520.7" y="1853.1" width="14.2" height="14.2" fill="#bcd9f2" stroke="#333" stroke-width="1.6"/><rect x="541.3" y="1845.6" width="14.2" height="14.2" fill="#bcd9f2" stroke="#333" stroke-width="1.6"/><rect x="562.0" y="1838.0" width="14.2" height="14.2" fill="#bcd9f2" stroke="#333" stroke-width="1.6"/><rect x="582.6" y="1830.8" width="14.2" height="14.2" fill="#bcd9f2" stroke="#333" stroke-width="1.6"/><rect x="603.3" y="1823.4" width="14.2" height="14.2" fill="#bcd9f2" stroke="#333" stroke-width="1.6"/><rect x="623.9" y="1816.6" width="14.2" height="14.2" fill="#bcd9f2" stroke="#333" stroke-width="1.6"/><rect x="644.6" y="1810.0" width="14.2" height="14.2" fill="#bcd9f2" stroke="#333" stroke-width="1.6"/><rect x="665.2" y="1803.6" width="14.2" height="14.2" fill="#bcd9f2" stroke="#333" stroke-width="1.6"/><rect x="685.9" y="1796.8" width="14.2" height="14.2" fill="#bcd9f2" stroke="#333" stroke-width="1.6"/><rect x="706.5" y="1790.7" width="14.2" height="14.2" fill="#bcd9f2" stroke="#333" stroke-width="1.6"/><circle cx="197.4" cy="1990.5" r="7.1" fill="#d6d6d6" stroke="#222" stroke-width="1.4"/><circle cx="218.1" cy="1990.1" r="7.1" fill="#d6d6d6" stroke="#222" stroke-width="1.4"/><circle cx="238.7" cy="1987.6" r="7.1" fill="#d6d6d6" stroke="#222" stroke-width="1.4"/><circle cx="259.4" cy="1981.3" r="7.1" fill="#d6d6d6" stroke="#222" stroke-width="1.4"/><circle cx="280.0" cy="1968.3" r="7.1" fill="#d6d6d6" stroke="#222" stroke-width="1.4"/><circle cx="300.6" cy="1952.5" r="7.1" fill="#d6d6d6" stroke="#222" stroke-width="1.4"/><circle cx="321.3" cy="1932.6" r="7.1" fill="#d6d6d6" stroke="#222" stroke-width="1.4"/><circle cx="341.9" cy="1915.6" r="7.1" fill="#d6d6d6" stroke="#222" stroke-width="1.4"/><circle cx="362.6" cy="1900.9" r="7.1" fill="#d6d6d6" stroke="#222" stroke-width="1.4"/><circle cx="383.2" cy="1882.9" r="7.1" fill="#d6d6d6" stroke="#222" stroke-width="1.4"/><circle cx="403.9" cy="1865.9" r="7.1" fill="#d6d6d6" stroke="#222" stroke-width="1.4"/><circle cx="424.5" cy="1850.8" r="7.1" fill="#d6d6d6" stroke="#222" stroke-width="1.4"/><circle cx="445.2" cy="1836.4" r="7.1" fill="#d6d6d6" stroke="#222" stroke-width="1.4"/><circle cx="465.9" cy="1821.3" r="7.1" fill="#d6d6d6" stroke="#222" stroke-width="1.4"/><circle cx="486.5" cy="1806.7" r="7.1" fill="#d6d6d6" stroke="#222" stroke-width="1.4"/><circle cx="507.1" cy="1796.0" r="7.1" fill="#d6d6d6" stroke="#222" stroke-width="1.4"/><circle cx="527.8" cy="1784.0" r="7.1" fill="#d6d6d6" stroke="#222" stroke-width="1.4"/><circle cx="548.4" cy="1771.8" r="7.1" fill="#d6d6d6" stroke="#222" stroke-width="1.4"/><circle cx="569.1" cy="1759.7" r="7.1" fill="#d6d6d6" stroke="#222" stroke-width="1.4"/><circle cx="589.8" cy="1748.3" r="7.1" fill="#d6d6d6" stroke="#222" stroke-width="1.4"/><circle cx="610.4" cy="1734.1" r="7.1" fill="#d6d6d6" stroke="#222" stroke-width="1.4"/><circle cx="631.0" cy="1725.6" r="7.1" fill="#d6d6d6" stroke="#222" stroke-width="1.4"/><circle cx="651.7" cy="1714.7" r="7.1" fill="#d6d6d6" stroke="#222" stroke-width="1.4"/><circle cx="672.4" cy="1702.9" r="7.1" fill="#d6d6d6" stroke="#222" stroke-width="1.4"/><circle cx="693.0" cy="1694.8" r="7.1" fill="#d6d6d6" stroke="#222" stroke-width="1.4"/><circle cx="713.6" cy="1685.0" r="7.1" fill="#d6d6d6" stroke="#222" stroke-width="1.4"/>
<line x1="227.3" y1="1641.8" x2="264.2" y2="1641.8" stroke="#000" stroke-width="1.6"/>
<circle cx="245.7" cy="1641.8" r="7.1" fill="#d6d6d6" stroke="#222" stroke-width="1.4"/>
<text x="280.3" y="1649.1" font-size="25.5">Ctl</text>
<line x1="227.3" y1="1683.3" x2="264.2" y2="1683.3" stroke="#000" stroke-width="1.6"/>
<rect x="238.6" y="1676.2" width="14.2" height="14.2" fill="#bcd9f2" stroke="#333" stroke-width="1.6"/>
<text x="280.3" y="1690.6" font-size="25.5">MHS</text>
<line x1="227.3" y1="1725.5" x2="264.2" y2="1725.5" stroke="#000" stroke-width="1.6"/>
<path d="M245.7,1718.0 L252.8,1731.5 L238.6,1731.5 Z" fill="#3f6db5" stroke="#222" stroke-width="1.4" stroke-linejoin="round"/>
<text x="280.3" y="1732.8" font-size="25.5">KO</text>
<path d="M730.7,1672.1 H748.9 V1796.6 H730.7" fill="none" stroke="#333" stroke-width="1.5"/>
<path d="M731.5,1806 H749.7 V1929.8 H731.5" fill="none" stroke="#333" stroke-width="1.5"/>
<path d="M782.3,1677.9 H800.1 V1927.4 H782.3" fill="none" stroke="#333" stroke-width="1.5"/>
<text x="769.4" y="1765.6" font-size="20" textLength="62.0" lengthAdjust="spacingAndGlyphs" transform="rotate(-90 769.4 1765.6)">0.0525</text>
<text x="769.4" y="1899.1" font-size="20" textLength="61.7" lengthAdjust="spacingAndGlyphs" transform="rotate(-90 769.4 1899.1)">0.0381</text>
<text x="826.1" y="1835.2" font-size="20" textLength="64.7" lengthAdjust="spacingAndGlyphs" transform="rotate(-90 826.1 1835.2)">0.0065</text>
<text x="899.6" y="1539.2" font-size="42" font-weight="bold">h</text>
<text x="1026.2" y="1556.1" font-size="27" text-anchor="middle" textLength="118.2" lengthAdjust="spacingAndGlyphs">Microglia</text>
<text x="1025.8" y="1584.4" font-size="27" text-anchor="middle">+</text>
<text x="1026.3" y="1618.9" font-size="27" text-anchor="middle" textLength="108.1" lengthAdjust="spacingAndGlyphs">stimulus</text>
<text x="1026.3" y="1649.4" font-size="27" text-anchor="middle" textLength="134.1" lengthAdjust="spacingAndGlyphs">(Aβ or tau)</text>
<text x="1166.9" y="1662.8" font-size="27" textLength="50.0" lengthAdjust="spacingAndGlyphs">20 h</text>
<text x="1028.3" y="1987.6" font-size="27" text-anchor="middle" textLength="134.8" lengthAdjust="spacingAndGlyphs">Quantitate</text>
<text x="1027.6" y="2019.1" font-size="27" text-anchor="middle" textLength="94.6" lengthAdjust="spacingAndGlyphs">cell no.</text>
<rect x="1112.0" y="1531.0" width="83.2" height="24.0" fill="#f1f5fa"/><path d="M1112.0,1555.0 H1195.2 V1619.3 Q1195.2,1623.3 1191.2,1623.3 H1116.0 Q1112.0,1623.3 1112.0,1619.3 Z" fill="#fbdae5"/><path d="M1123.0,1555.0 H1184.2 V1597.5 Q1184.2,1601.5 1180.2,1601.5 H1127.0 Q1123.0,1601.5 1123.0,1597.5 Z" fill="#eec2d2"/><line x1="1112.0" y1="1555.0" x2="1195.2" y2="1555.0" stroke="#e2a1aa" stroke-width="1"/><path d="M1112.0,1531.0 V1619.3 Q1112.0,1623.3 1116.0,1623.3 H1191.2 Q1195.2,1623.3 1195.2,1619.3 V1531.0" fill="none" stroke="#8db0a6" stroke-width="4.4"/><path d="M1112.0,1531.0 V1619.3 Q1112.0,1623.3 1116.0,1623.3 H1191.2 Q1195.2,1623.3 1195.2,1619.3 V1531.0" fill="none" stroke="#d4e9e2" stroke-width="2.6"/><path d="M1108.3,1530.6 H1120.0 Q1123.0,1530.6 1123.0,1534.6 V1597.5 Q1123.0,1601.5 1127.0,1601.5 M1180.2,1601.5 Q1184.2,1601.5 1184.2,1597.5 V1534.6 Q1184.2,1530.6 1187.2,1530.6 H1198.5" fill="none" stroke="#8db0a6" stroke-width="4.2"/><path d="M1108.3,1530.6 H1120.0 Q1123.0,1530.6 1123.0,1534.6 V1597.5 Q1123.0,1601.5 1127.0,1601.5 M1180.2,1601.5 Q1184.2,1601.5 1184.2,1597.5 V1534.6 Q1184.2,1530.6 1187.2,1530.6 H1198.5" fill="none" stroke="#d4e9e2" stroke-width="2.4"/><line x1="1127.0" y1="1601.5" x2="1180.2" y2="1601.5" stroke="#9fb8b0" stroke-width="2.2" stroke-dasharray="1 1.6"/><line x1="1123.0" y1="1531.0" x2="1184.2" y2="1531.0" stroke="#cfd8de" stroke-width="1"/><path d="M1133.5,1570.0 L1138.4,1568.5 M1133.5,1570.0 L1129.5,1574.1 M1133.5,1570.0 L1133.4,1565.9 M1133.5,1570.0 L1131.8,1564.8 M1133.5,1570.0 L1131.5,1565.8 M1133.5,1570.0 L1129.9,1566.0 M1133.5,1570.0 L1137.3,1566.7" stroke="#a5bde9" stroke-width="0.8" fill="none"/><ellipse cx="1133.5" cy="1570.0" rx="2.3" ry="1.7" fill="#93b1e6"/><circle cx="1133.5" cy="1570.0" r="0.8" fill="#4b5ec4"/><path d="M1157.5,1569.5 L1161.2,1567.9 M1157.5,1569.5 L1162.5,1568.2 M1157.5,1569.5 L1157.0,1565.5 M1157.5,1569.5 L1161.4,1567.4 M1157.5,1569.5 L1159.3,1575.2 M1157.5,1569.5 L1151.9,1569.1 M1157.5,1569.5 L1153.6,1570.5" stroke="#a5bde9" stroke-width="0.8" fill="none"/><ellipse cx="1157.5" cy="1569.5" rx="2.3" ry="1.7" fill="#93b1e6"/><circle cx="1157.5" cy="1569.5" r="0.8" fill="#4b5ec4"/><path d="M1148.0,1579.0 L1149.7,1574.3 M1148.0,1579.0 L1149.0,1584.8 M1148.0,1579.0 L1146.5,1574.3 M1148.0,1579.0 L1150.5,1584.5 M1148.0,1579.0 L1143.9,1580.3 M1148.0,1579.0 L1149.0,1584.2 M1148.0,1579.0 L1143.1,1577.0" stroke="#a5bde9" stroke-width="0.8" fill="none"/><ellipse cx="1148.0" cy="1579.0" rx="2.3" ry="1.7" fill="#93b1e6"/><circle cx="1148.0" cy="1579.0" r="0.8" fill="#4b5ec4"/><path d="M1169.5,1579.0 L1170.8,1573.2 M1169.5,1579.0 L1174.1,1583.1 M1169.5,1579.0 L1165.4,1580.6 M1169.5,1579.0 L1172.8,1581.0 M1169.5,1579.0 L1174.5,1582.0 M1169.5,1579.0 L1164.0,1579.3 M1169.5,1579.0 L1166.2,1576.7" stroke="#a5bde9" stroke-width="0.8" fill="none"/><ellipse cx="1169.5" cy="1579.0" rx="2.3" ry="1.7" fill="#93b1e6"/><circle cx="1169.5" cy="1579.0" r="0.8" fill="#4b5ec4"/><path d="M1133.5,1592.5 L1129.5,1590.3 M1133.5,1592.5 L1136.3,1589.1 M1133.5,1592.5 L1130.9,1596.2 M1133.5,1592.5 L1136.7,1595.1 M1133.5,1592.5 L1133.8,1588.9 M1133.5,1592.5 L1131.1,1596.1 M1133.5,1592.5 L1128.1,1593.7" stroke="#a5bde9" stroke-width="0.8" fill="none"/><ellipse cx="1133.5" cy="1592.5" rx="2.3" ry="1.7" fill="#93b1e6"/><circle cx="1133.5" cy="1592.5" r="0.8" fill="#4b5ec4"/><path d="M1151.0,1592.5 L1155.4,1593.5 M1151.0,1592.5 L1155.1,1589.2 M1151.0,1592.5 L1146.9,1592.9 M1151.0,1592.5 L1147.1,1589.9 M1151.0,1592.5 L1149.2,1588.8 M1151.0,1592.5 L1148.8,1588.2 M1151.0,1592.5 L1154.4,1594.3" stroke="#a5bde9" stroke-width="0.8" fill="none"/><ellipse cx="1151.0" cy="1592.5" rx="2.3" ry="1.7" fill="#93b1e6"/><circle cx="1151.0" cy="1592.5" r="0.8" fill="#4b5ec4"/><path d="M1169.0,1592.5 L1167.4,1586.5 M1169.0,1592.5 L1166.5,1588.2 M1169.0,1592.5 L1168.1,1589.0 M1169.0,1592.5 L1164.9,1592.5 M1169.0,1592.5 L1174.7,1591.8 M1169.0,1592.5 L1164.6,1591.4 M1169.0,1592.5 L1165.1,1594.9" stroke="#a5bde9" stroke-width="0.8" fill="none"/><ellipse cx="1169.0" cy="1592.5" rx="2.3" ry="1.7" fill="#93b1e6"/><circle cx="1169.0" cy="1592.5" r="0.8" fill="#4b5ec4"/><path d="M1160.4,1617.2 l6.2,1.3" stroke="#8fb8a0" stroke-width="0.9" stroke-dasharray="1 0.8"/><path d="M1168.7,1618.7 l3.1,-0.1" stroke="#8fb8a0" stroke-width="0.9" stroke-dasharray="1 0.8"/><path d="M1183.2,1616.5 l6.6,-1.2" stroke="#8fb8a0" stroke-width="0.9" stroke-dasharray="1 0.8"/><path d="M1149.4,1613.3 l5.2,0.2" stroke="#8fb8a0" stroke-width="0.9" stroke-dasharray="1 0.8"/><path d="M1116.9,1613.0 l4.1,1.2" stroke="#8fb8a0" stroke-width="0.9" stroke-dasharray="1 0.8"/><path d="M1170.5,1612.6 l6.2,-1.1" stroke="#8fb8a0" stroke-width="0.9" stroke-dasharray="1 0.8"/><path d="M1160.0,1612.3 l3.0,1.1" stroke="#8fb8a0" stroke-width="0.9" stroke-dasharray="1 0.8"/><path d="M1130.9,1613.0 l6.9,1.1" stroke="#8fb8a0" stroke-width="0.9" stroke-dasharray="1 0.8"/><path d="M1136.6,1619.0 l5.2,0.5" stroke="#8fb8a0" stroke-width="0.9" stroke-dasharray="1 0.8"/><path d="M1130.6,1618.8 l5.8,1.4" stroke="#8fb8a0" stroke-width="0.9" stroke-dasharray="1 0.8"/><path d="M1179.6,1613.7 l4.4,-1.0" stroke="#8fb8a0" stroke-width="0.9" stroke-dasharray="1 0.8"/><path d="M1126.4,1611.8 l4.2,0.3" stroke="#8fb8a0" stroke-width="0.9" stroke-dasharray="1 0.8"/><path d="M1116.2,1616.7 l4.4,-0.6" stroke="#8fb8a0" stroke-width="0.9" stroke-dasharray="1 0.8"/><path d="M1174.3,1615.1 l4.3,-0.1" stroke="#8fb8a0" stroke-width="0.9" stroke-dasharray="1 0.8"/>
<path d="M1150.5,1634.6 H1155.5 V1653.2 H1160.5 L1153.0,1672.4 L1145.5,1653.2 H1150.5 Z" fill="#e6edf9" stroke="#9fb6e2" stroke-width="1.3" stroke-linejoin="round"/>
<rect x="1111.9" y="1679.9" width="80.5" height="23.1" fill="#f1f5fa"/><path d="M1111.9,1703.0 H1192.4 V1765.4 Q1192.4,1769.4 1188.4,1769.4 H1115.9 Q1111.9,1769.4 1111.9,1765.4 Z" fill="#fbdae5"/><path d="M1122.9,1703.0 H1181.4 V1745.4 Q1181.4,1749.4 1177.4,1749.4 H1126.9 Q1122.9,1749.4 1122.9,1745.4 Z" fill="#eec2d2"/><line x1="1111.9" y1="1703.0" x2="1192.4" y2="1703.0" stroke="#e2a1aa" stroke-width="1"/><path d="M1111.9,1679.9 V1765.4 Q1111.9,1769.4 1115.9,1769.4 H1188.4 Q1192.4,1769.4 1192.4,1765.4 V1679.9" fill="none" stroke="#8db0a6" stroke-width="4.4"/><path d="M1111.9,1679.9 V1765.4 Q1111.9,1769.4 1115.9,1769.4 H1188.4 Q1192.4,1769.4 1192.4,1765.4 V1679.9" fill="none" stroke="#d4e9e2" stroke-width="2.6"/><path d="M1108.2,1679.5 H1119.9 Q1122.9,1679.5 1122.9,1683.5 V1745.4 Q1122.9,1749.4 1126.9,1749.4 M1177.4,1749.4 Q1181.4,1749.4 1181.4,1745.4 V1683.5 Q1181.4,1679.5 1184.4,1679.5 H1195.7" fill="none" stroke="#8db0a6" stroke-width="4.2"/><path d="M1108.2,1679.5 H1119.9 Q1122.9,1679.5 1122.9,1683.5 V1745.4 Q1122.9,1749.4 1126.9,1749.4 M1177.4,1749.4 Q1181.4,1749.4 1181.4,1745.4 V1683.5 Q1181.4,1679.5 1184.4,1679.5 H1195.7" fill="none" stroke="#d4e9e2" stroke-width="2.4"/><line x1="1126.9" y1="1749.4" x2="1177.4" y2="1749.4" stroke="#9fb8b0" stroke-width="2.2" stroke-dasharray="1 1.6"/><line x1="1122.9" y1="1679.9" x2="1181.4" y2="1679.9" stroke="#cfd8de" stroke-width="1"/><path d="M1134.0,1736.7 L1134.0,1732.2 M1134.0,1736.7 L1131.9,1741.8 M1134.0,1736.7 L1130.8,1739.3 M1134.0,1736.7 L1134.6,1742.9 M1134.0,1736.7 L1129.5,1736.9 M1134.0,1736.7 L1136.2,1742.3 M1134.0,1736.7 L1131.3,1733.5" stroke="#a5bde9" stroke-width="0.8" fill="none"/><ellipse cx="1134.0" cy="1736.7" rx="2.3" ry="1.7" fill="#93b1e6"/><circle cx="1134.0" cy="1736.7" r="0.8" fill="#4b5ec4"/><path d="M1151.7,1736.7 L1149.2,1732.9 M1151.7,1736.7 L1149.7,1742.4 M1151.7,1736.7 L1155.8,1734.4 M1151.7,1736.7 L1148.2,1734.5 M1151.7,1736.7 L1152.0,1732.5 M1151.7,1736.7 L1147.2,1735.9 M1151.7,1736.7 L1155.1,1733.3" stroke="#a5bde9" stroke-width="0.8" fill="none"/><ellipse cx="1151.7" cy="1736.7" rx="2.3" ry="1.7" fill="#93b1e6"/><circle cx="1151.7" cy="1736.7" r="0.8" fill="#4b5ec4"/><path d="M1166.6,1736.7 L1167.2,1732.5 M1166.6,1736.7 L1161.7,1737.7 M1166.6,1736.7 L1166.0,1742.6 M1166.6,1736.7 L1171.6,1736.6 M1166.6,1736.7 L1164.9,1741.2 M1166.6,1736.7 L1169.5,1733.2 M1166.6,1736.7 L1162.3,1735.2" stroke="#a5bde9" stroke-width="0.8" fill="none"/><ellipse cx="1166.6" cy="1736.7" rx="2.3" ry="1.7" fill="#93b1e6"/><circle cx="1166.6" cy="1736.7" r="0.8" fill="#4b5ec4"/><path d="M1134.0,1749.4 L1138.3,1747.1 M1134.0,1749.4 L1136.0,1745.9 M1134.0,1749.4 L1139.0,1750.4 M1134.0,1749.4 L1132.9,1745.3 M1134.0,1749.4 L1129.3,1748.0 M1134.0,1749.4 L1129.8,1745.3 M1134.0,1749.4 L1137.2,1752.5" stroke="#a5bde9" stroke-width="0.8" fill="none"/><ellipse cx="1134.0" cy="1749.4" rx="2.3" ry="1.7" fill="#93b1e6"/><circle cx="1134.0" cy="1749.4" r="0.8" fill="#4b5ec4"/><path d="M1151.7,1749.4 L1146.7,1745.6 M1151.7,1749.4 L1151.5,1743.2 M1151.7,1749.4 L1155.1,1744.3 M1151.7,1749.4 L1151.0,1744.3 M1151.7,1749.4 L1147.6,1746.5 M1151.7,1749.4 L1152.1,1754.2 M1151.7,1749.4 L1148.1,1747.2" stroke="#a5bde9" stroke-width="0.8" fill="none"/><ellipse cx="1151.7" cy="1749.4" rx="2.3" ry="1.7" fill="#93b1e6"/><circle cx="1151.7" cy="1749.4" r="0.8" fill="#4b5ec4"/><path d="M1166.6,1749.4 L1166.9,1753.1 M1166.6,1749.4 L1165.5,1745.8 M1166.6,1749.4 L1169.6,1751.7 M1166.6,1749.4 L1168.8,1754.4 M1166.6,1749.4 L1164.0,1753.3 M1166.6,1749.4 L1165.4,1744.2 M1166.6,1749.4 L1168.2,1745.9" stroke="#a5bde9" stroke-width="0.8" fill="none"/><ellipse cx="1166.6" cy="1749.4" rx="2.3" ry="1.7" fill="#93b1e6"/><circle cx="1166.6" cy="1749.4" r="0.8" fill="#4b5ec4"/><path d="M1121.9,1760.8 L1127.3,1764.0 M1121.9,1760.8 L1117.9,1763.9 M1121.9,1760.8 L1122.7,1756.5 M1121.9,1760.8 L1125.3,1763.5 M1121.9,1760.8 L1117.0,1762.3 M1121.9,1760.8 L1118.6,1758.1 M1121.9,1760.8 L1125.2,1763.1" stroke="#a5bde9" stroke-width="0.8" fill="none"/><ellipse cx="1121.9" cy="1760.8" rx="2.3" ry="1.7" fill="#93b1e6"/><circle cx="1121.9" cy="1760.8" r="0.8" fill="#4b5ec4"/><path d="M1152.4,1762.9 L1156.9,1759.5 M1152.4,1762.9 L1156.1,1758.9 M1152.4,1762.9 L1151.8,1768.4 M1152.4,1762.9 L1147.6,1766.1 M1152.4,1762.9 L1148.1,1761.4 M1152.4,1762.9 L1154.5,1758.8 M1152.4,1762.9 L1156.0,1758.9" stroke="#a5bde9" stroke-width="0.8" fill="none"/><ellipse cx="1152.4" cy="1762.9" rx="2.3" ry="1.7" fill="#93b1e6"/><circle cx="1152.4" cy="1762.9" r="0.8" fill="#4b5ec4"/><path d="M1178.7,1761.5 L1183.1,1765.8 M1178.7,1761.5 L1175.1,1757.9 M1178.7,1761.5 L1180.0,1767.0 M1178.7,1761.5 L1181.2,1756.4 M1178.7,1761.5 L1179.3,1757.9 M1178.7,1761.5 L1177.0,1756.4 M1178.7,1761.5 L1174.7,1763.3" stroke="#a5bde9" stroke-width="0.8" fill="none"/><ellipse cx="1178.7" cy="1761.5" rx="2.3" ry="1.7" fill="#93b1e6"/><circle cx="1178.7" cy="1761.5" r="0.8" fill="#4b5ec4"/><path d="M1158.6,1763.3 l6.2,1.3" stroke="#8fb8a0" stroke-width="0.9" stroke-dasharray="1 0.8"/><path d="M1166.6,1764.8 l3.1,-0.1" stroke="#8fb8a0" stroke-width="0.9" stroke-dasharray="1 0.8"/><path d="M1180.5,1762.6 l6.6,-1.2" stroke="#8fb8a0" stroke-width="0.9" stroke-dasharray="1 0.8"/><path d="M1148.0,1759.4 l5.2,0.2" stroke="#8fb8a0" stroke-width="0.9" stroke-dasharray="1 0.8"/><path d="M1116.8,1759.1 l4.1,1.2" stroke="#8fb8a0" stroke-width="0.9" stroke-dasharray="1 0.8"/><path d="M1168.4,1758.7 l6.2,-1.1" stroke="#8fb8a0" stroke-width="0.9" stroke-dasharray="1 0.8"/><path d="M1158.2,1758.4 l3.0,1.1" stroke="#8fb8a0" stroke-width="0.9" stroke-dasharray="1 0.8"/><path d="M1130.2,1759.1 l6.9,1.1" stroke="#8fb8a0" stroke-width="0.9" stroke-dasharray="1 0.8"/><path d="M1135.7,1765.1 l5.2,0.5" stroke="#8fb8a0" stroke-width="0.9" stroke-dasharray="1 0.8"/><path d="M1129.9,1764.9 l5.8,1.4" stroke="#8fb8a0" stroke-width="0.9" stroke-dasharray="1 0.8"/><path d="M1177.1,1759.8 l4.4,-1.0" stroke="#8fb8a0" stroke-width="0.9" stroke-dasharray="1 0.8"/><path d="M1125.9,1757.9 l4.2,0.3" stroke="#8fb8a0" stroke-width="0.9" stroke-dasharray="1 0.8"/><path d="M1116.1,1762.8 l4.4,-0.6" stroke="#8fb8a0" stroke-width="0.9" stroke-dasharray="1 0.8"/><path d="M1172.0,1761.2 l4.3,-0.1" stroke="#8fb8a0" stroke-width="0.9" stroke-dasharray="1 0.8"/>
<path d="M1150.5,1782.0 H1155.5 V1801.2 H1160.5 L1153.0,1819.6 L1145.5,1801.2 H1150.5 Z" fill="#e6edf9" stroke="#9fb6e2" stroke-width="1.3" stroke-linejoin="round"/>
<rect x="1111.9" y="1838.1" width="78.3" height="22.7" fill="#f1f5fa"/><path d="M1111.9,1860.8 H1190.2 V1921.4 Q1190.2,1925.4 1186.2,1925.4 H1115.9 Q1111.9,1925.4 1111.9,1921.4 Z" fill="#fbdae5"/><path d="M1122.9,1860.8 H1179.2 V1900.8 Q1179.2,1904.8 1175.2,1904.8 H1126.9 Q1122.9,1904.8 1122.9,1900.8 Z" fill="#eec2d2"/><line x1="1111.9" y1="1860.8" x2="1190.2" y2="1860.8" stroke="#e2a1aa" stroke-width="1"/><path d="M1111.9,1838.1 V1921.4 Q1111.9,1925.4 1115.9,1925.4 H1186.2 Q1190.2,1925.4 1190.2,1921.4 V1838.1" fill="none" stroke="#8db0a6" stroke-width="4.4"/><path d="M1111.9,1838.1 V1921.4 Q1111.9,1925.4 1115.9,1925.4 H1186.2 Q1190.2,1925.4 1190.2,1921.4 V1838.1" fill="none" stroke="#d4e9e2" stroke-width="2.6"/><path d="M1108.2,1837.7 H1119.9 Q1122.9,1837.7 1122.9,1841.7 V1900.8 Q1122.9,1904.8 1126.9,1904.8 M1175.2,1904.8 Q1179.2,1904.8 1179.2,1900.8 V1841.7 Q1179.2,1837.7 1182.2,1837.7 H1193.5" fill="none" stroke="#8db0a6" stroke-width="4.2"/><path d="M1108.2,1837.7 H1119.9 Q1122.9,1837.7 1122.9,1841.7 V1900.8 Q1122.9,1904.8 1126.9,1904.8 M1175.2,1904.8 Q1179.2,1904.8 1179.2,1900.8 V1841.7 Q1179.2,1837.7 1182.2,1837.7 H1193.5" fill="none" stroke="#d4e9e2" stroke-width="2.4"/><line x1="1126.9" y1="1904.8" x2="1175.2" y2="1904.8" stroke="#9fb8b0" stroke-width="2.2" stroke-dasharray="1 1.6"/><line x1="1122.9" y1="1838.1" x2="1179.2" y2="1838.1" stroke="#cfd8de" stroke-width="1"/><path d="M1132.6,1892.7 L1128.3,1891.4 M1132.6,1892.7 L1130.7,1898.0 M1132.6,1892.7 L1136.3,1891.4 M1132.6,1892.7 L1133.8,1898.4 M1132.6,1892.7 L1128.7,1892.4 M1132.6,1892.7 L1135.9,1889.6 M1132.6,1892.7 L1135.3,1889.1" stroke="#a5bde9" stroke-width="0.8" fill="none"/><ellipse cx="1132.6" cy="1892.7" rx="2.3" ry="1.7" fill="#93b1e6"/><circle cx="1132.6" cy="1892.7" r="0.8" fill="#4b5ec4"/><path d="M1151.0,1892.7 L1157.1,1891.3 M1151.0,1892.7 L1156.4,1890.7 M1151.0,1892.7 L1148.5,1897.3 M1151.0,1892.7 L1149.4,1897.8 M1151.0,1892.7 L1154.0,1894.8 M1151.0,1892.7 L1154.6,1891.7 M1151.0,1892.7 L1147.9,1897.7" stroke="#a5bde9" stroke-width="0.8" fill="none"/><ellipse cx="1151.0" cy="1892.7" rx="2.3" ry="1.7" fill="#93b1e6"/><circle cx="1151.0" cy="1892.7" r="0.8" fill="#4b5ec4"/><path d="M1165.2,1892.7 L1165.1,1888.3 M1165.2,1892.7 L1161.2,1889.6 M1165.2,1892.7 L1162.2,1894.7 M1165.2,1892.7 L1169.5,1893.7 M1165.2,1892.7 L1168.2,1898.0 M1165.2,1892.7 L1161.0,1893.7 M1165.2,1892.7 L1166.2,1898.2" stroke="#a5bde9" stroke-width="0.8" fill="none"/><ellipse cx="1165.2" cy="1892.7" rx="2.3" ry="1.7" fill="#93b1e6"/><circle cx="1165.2" cy="1892.7" r="0.8" fill="#4b5ec4"/><path d="M1134.0,1905.5 L1133.6,1901.0 M1134.0,1905.5 L1138.8,1902.0 M1134.0,1905.5 L1128.6,1907.6 M1134.0,1905.5 L1134.8,1911.1 M1134.0,1905.5 L1128.0,1906.0 M1134.0,1905.5 L1129.3,1908.2 M1134.0,1905.5 L1137.9,1905.9" stroke="#a5bde9" stroke-width="0.8" fill="none"/><ellipse cx="1134.0" cy="1905.5" rx="2.3" ry="1.7" fill="#93b1e6"/><circle cx="1134.0" cy="1905.5" r="0.8" fill="#4b5ec4"/><path d="M1151.0,1905.5 L1147.4,1904.2 M1151.0,1905.5 L1153.5,1900.7 M1151.0,1905.5 L1149.7,1899.6 M1151.0,1905.5 L1151.7,1910.7 M1151.0,1905.5 L1150.1,1901.0 M1151.0,1905.5 L1147.3,1908.8 M1151.0,1905.5 L1147.9,1903.2" stroke="#a5bde9" stroke-width="0.8" fill="none"/><ellipse cx="1151.0" cy="1905.5" rx="2.3" ry="1.7" fill="#93b1e6"/><circle cx="1151.0" cy="1905.5" r="0.8" fill="#4b5ec4"/><path d="M1166.0,1905.5 L1161.7,1904.5 M1166.0,1905.5 L1162.3,1904.2 M1166.0,1905.5 L1162.1,1905.2 M1166.0,1905.5 L1164.8,1901.9 M1166.0,1905.5 L1160.6,1903.7 M1166.0,1905.5 L1160.8,1906.1 M1166.0,1905.5 L1166.9,1900.8" stroke="#a5bde9" stroke-width="0.8" fill="none"/><ellipse cx="1166.0" cy="1905.5" rx="2.3" ry="1.7" fill="#93b1e6"/><circle cx="1166.0" cy="1905.5" r="0.8" fill="#4b5ec4"/><path d="M1121.9,1917.5 L1118.5,1916.3 M1121.9,1917.5 L1117.3,1916.9 M1121.9,1917.5 L1119.3,1920.7 M1121.9,1917.5 L1123.8,1922.1 M1121.9,1917.5 L1117.7,1921.3 M1121.9,1917.5 L1116.9,1920.2 M1121.9,1917.5 L1126.4,1917.1" stroke="#a5bde9" stroke-width="0.8" fill="none"/><ellipse cx="1121.9" cy="1917.5" rx="2.3" ry="1.7" fill="#93b1e6"/><circle cx="1121.9" cy="1917.5" r="0.8" fill="#4b5ec4"/><path d="M1151.0,1918.0 L1149.1,1923.4 M1151.0,1918.0 L1152.4,1914.0 M1151.0,1918.0 L1151.9,1912.3 M1151.0,1918.0 L1145.6,1918.9 M1151.0,1918.0 L1154.4,1916.2 M1151.0,1918.0 L1149.5,1914.3 M1151.0,1918.0 L1153.2,1921.6" stroke="#a5bde9" stroke-width="0.8" fill="none"/><ellipse cx="1151.0" cy="1918.0" rx="2.3" ry="1.7" fill="#93b1e6"/><circle cx="1151.0" cy="1918.0" r="0.8" fill="#4b5ec4"/><path d="M1177.0,1917.5 L1177.5,1913.7 M1177.0,1917.5 L1182.6,1916.8 M1177.0,1917.5 L1182.7,1917.5 M1177.0,1917.5 L1180.7,1920.7 M1177.0,1917.5 L1179.1,1923.1 M1177.0,1917.5 L1178.2,1912.3 M1177.0,1917.5 L1176.9,1922.4" stroke="#a5bde9" stroke-width="0.8" fill="none"/><ellipse cx="1177.0" cy="1917.5" rx="2.3" ry="1.7" fill="#93b1e6"/><circle cx="1177.0" cy="1917.5" r="0.8" fill="#4b5ec4"/><path d="M1157.2,1919.3 l6.2,1.3" stroke="#8fb8a0" stroke-width="0.9" stroke-dasharray="1 0.8"/><path d="M1165.0,1920.8 l3.1,-0.1" stroke="#8fb8a0" stroke-width="0.9" stroke-dasharray="1 0.8"/><path d="M1178.4,1918.6 l6.6,-1.2" stroke="#8fb8a0" stroke-width="0.9" stroke-dasharray="1 0.8"/><path d="M1147.0,1915.4 l5.2,0.2" stroke="#8fb8a0" stroke-width="0.9" stroke-dasharray="1 0.8"/><path d="M1116.8,1915.1 l4.1,1.2" stroke="#8fb8a0" stroke-width="0.9" stroke-dasharray="1 0.8"/><path d="M1166.7,1914.7 l6.2,-1.1" stroke="#8fb8a0" stroke-width="0.9" stroke-dasharray="1 0.8"/><path d="M1156.8,1914.4 l3.0,1.1" stroke="#8fb8a0" stroke-width="0.9" stroke-dasharray="1 0.8"/><path d="M1129.8,1915.1 l6.9,1.1" stroke="#8fb8a0" stroke-width="0.9" stroke-dasharray="1 0.8"/><path d="M1135.1,1921.1 l5.2,0.5" stroke="#8fb8a0" stroke-width="0.9" stroke-dasharray="1 0.8"/><path d="M1129.5,1920.9 l5.8,1.4" stroke="#8fb8a0" stroke-width="0.9" stroke-dasharray="1 0.8"/><path d="M1175.2,1915.8 l4.4,-1.0" stroke="#8fb8a0" stroke-width="0.9" stroke-dasharray="1 0.8"/><path d="M1125.6,1913.9 l4.2,0.3" stroke="#8fb8a0" stroke-width="0.9" stroke-dasharray="1 0.8"/><path d="M1116.1,1918.8 l4.4,-0.6" stroke="#8fb8a0" stroke-width="0.9" stroke-dasharray="1 0.8"/><path d="M1170.2,1917.2 l4.3,-0.1" stroke="#8fb8a0" stroke-width="0.9" stroke-dasharray="1 0.8"/>
<line x1="1180.8" y1="1810" x2="1165" y2="1880" stroke="#4a86cc" stroke-width="2.2"/><line x1="1180.8" y1="1810" x2="1165" y2="1880" stroke="#ffffff" stroke-width="2.2" stroke-dasharray="1.2 2.2"/><ellipse cx="1181.4" cy="1806.5" rx="2.2" ry="5" transform="rotate(13 1181.4 1806.5)" fill="#fff" stroke="#b8c0c8" stroke-width="0.7"/><ellipse cx="1164.3" cy="1883.5" rx="3.2" ry="6" transform="rotate(13 1164.3 1883.5)" fill="#fff" stroke="#c8ced4" stroke-width="0.7"/>
<path d="M1150.5,1936.2 H1155.5 V1956.0 H1160.5 L1153.0,1974.3 L1145.5,1956.0 H1150.5 Z" fill="#e6edf9" stroke="#9fb6e2" stroke-width="1.3" stroke-linejoin="round"/>
<path d="M1111,1995 Q1111,1991.5 1117,1991.5 H1183 Q1189,1991.5 1189,1995 L1191.5,2082.5 H1108.5 Z" fill="#f6f9fd"/>
<line x1="1108.5" y1="2083" x2="1191.5" y2="2083" stroke="#c6d0d6" stroke-width="0.8"/>
<path d="M1090,2084.5 H1104.5 Q1108,2084.5 1108.2,2080 L1110.5,1995 Q1111,1989.5 1117,1989.5 H1183 Q1189,1989.5 1189.5,1995 L1191.8,2080 Q1192,2084.5 1196,2084.5 H1211" fill="none" stroke="#8db0a6" stroke-width="4.6"/>
<path d="M1090,2084.5 H1104.5 Q1108,2084.5 1108.2,2080 L1110.5,1995 Q1111,1989.5 1117,1989.5 H1183 Q1189,1989.5 1189.5,1995 L1191.8,2080 Q1192,2084.5 1196,2084.5 H1211" fill="none" stroke="#d4e9e2" stroke-width="2.8"/>
<line x1="1117" y1="1989.5" x2="1183" y2="1989.5" stroke="#9fb8b0" stroke-width="2.2" stroke-dasharray="1 1.6"/>
<path d="M1131.5,1989.5 L1131.6,1983.5 M1131.5,1989.5 L1136.1,1988.1 M1131.5,1989.5 L1130.4,1985.1 M1131.5,1989.5 L1133.8,1985.5 M1131.5,1989.5 L1137.4,1990.9 M1131.5,1989.5 L1133.5,1993.8 M1131.5,1989.5 L1127.3,1994.3" stroke="#a5bde9" stroke-width="0.8" fill="none"/><ellipse cx="1131.5" cy="1989.5" rx="2.6" ry="1.9" fill="#93b1e6"/><circle cx="1131.5" cy="1989.5" r="0.9" fill="#4b5ec4"/><path d="M1149.5,1989.5 L1149.4,1993.7 M1149.5,1989.5 L1144.4,1987.5 M1149.5,1989.5 L1144.2,1987.1 M1149.5,1989.5 L1143.7,1992.7 M1149.5,1989.5 L1143.9,1991.6 M1149.5,1989.5 L1154.7,1985.0 M1149.5,1989.5 L1151.5,1984.4" stroke="#a5bde9" stroke-width="0.8" fill="none"/><ellipse cx="1149.5" cy="1989.5" rx="2.6" ry="1.9" fill="#93b1e6"/><circle cx="1149.5" cy="1989.5" r="0.9" fill="#4b5ec4"/><path d="M1168.5,1989.5 L1169.8,1993.6 M1168.5,1989.5 L1170.7,1985.5 M1168.5,1989.5 L1171.1,1994.8 M1168.5,1989.5 L1163.7,1984.6 M1168.5,1989.5 L1166.3,1993.1 M1168.5,1989.5 L1165.1,1983.9 M1168.5,1989.5 L1172.9,1989.9" stroke="#a5bde9" stroke-width="0.8" fill="none"/><ellipse cx="1168.5" cy="1989.5" rx="2.6" ry="1.9" fill="#93b1e6"/><circle cx="1168.5" cy="1989.5" r="0.9" fill="#4b5ec4"/>
<text x="1302.9" y="1538.9" font-size="42" font-weight="bold">i</text>
<line x1="1433.4" y1="1586.5" x2="1433.4" y2="2013.6" stroke="#000" stroke-width="1.5"/>
<line x1="1420.3" y1="2013.0" x2="1823.0" y2="2013.0" stroke="#000" stroke-width="1.5"/>
<line x1="1420.3" y1="2013.0" x2="1433.4" y2="2013.0" stroke="#000" stroke-width="1.5"/>
<text x="1406.3" y="2020.6" font-size="23" text-anchor="end">0</text>
<line x1="1420.3" y1="1906.4" x2="1433.4" y2="1906.4" stroke="#000" stroke-width="1.5"/>
<text x="1406.3" y="1914.0" font-size="23" text-anchor="end">100</text>
<line x1="1420.3" y1="1799.7" x2="1433.4" y2="1799.7" stroke="#000" stroke-width="1.5"/>
<text x="1406.3" y="1807.3" font-size="23" text-anchor="end">200</text>
<line x1="1420.3" y1="1693.1" x2="1433.4" y2="1693.1" stroke="#000" stroke-width="1.5"/>
<text x="1406.3" y="1700.7" font-size="23" text-anchor="end">300</text>
<line x1="1420.3" y1="1586.5" x2="1433.4" y2="1586.5" stroke="#000" stroke-width="1.5"/>
<text x="1406.3" y="1594.1" font-size="23" text-anchor="end">400</text>
<rect x="1455.6" y="1730.0" width="41.7" height="283.0" fill="#d6d6d6" stroke="#222" stroke-width="1.5"/>
<rect x="1509.8" y="1798.3" width="41.6" height="214.7" fill="#bad7f1" stroke="#222" stroke-width="1.5"/>
<rect x="1563.9" y="1914.7" width="42.0" height="98.3" fill="#4471b8" stroke="#222" stroke-width="1.5"/>
<rect x="1650.8" y="1741.3" width="41.6" height="271.7" fill="#d6d6d6" stroke="#222" stroke-width="1.5"/>
<rect x="1705.0" y="1791.3" width="41.3" height="221.7" fill="#bad7f1" stroke="#222" stroke-width="1.5"/>
<rect x="1759.0" y="1929.5" width="41.7" height="83.5" fill="#4471b8" stroke="#222" stroke-width="1.5"/>
<line x1="1476.4" y1="1710.9" x2="1476.4" y2="1748.4" stroke="#000" stroke-width="1.5"/>
<line x1="1466.1" y1="1710.9" x2="1486.7" y2="1710.9" stroke="#000" stroke-width="1.5"/>
<line x1="1466.1" y1="1748.4" x2="1486.7" y2="1748.4" stroke="#000" stroke-width="1.5"/>
<line x1="1476.4" y1="2013.0" x2="1476.4" y2="2025.6" stroke="#000" stroke-width="1.5"/>
<line x1="1530.6" y1="1775.6" x2="1530.6" y2="1819.5" stroke="#000" stroke-width="1.5"/>
<line x1="1520.3" y1="1775.6" x2="1540.9" y2="1775.6" stroke="#000" stroke-width="1.5"/>
<line x1="1520.3" y1="1819.5" x2="1540.9" y2="1819.5" stroke="#000" stroke-width="1.5"/>
<line x1="1530.6" y1="2013.0" x2="1530.6" y2="2025.6" stroke="#000" stroke-width="1.5"/>
<line x1="1584.9" y1="1892.9" x2="1584.9" y2="1935.2" stroke="#000" stroke-width="1.5"/>
<line x1="1574.6" y1="1892.9" x2="1595.2" y2="1892.9" stroke="#000" stroke-width="1.5"/>
<line x1="1574.6" y1="1935.2" x2="1595.2" y2="1935.2" stroke="#000" stroke-width="1.5"/>
<line x1="1584.9" y1="2013.0" x2="1584.9" y2="2025.6" stroke="#000" stroke-width="1.5"/>
<line x1="1671.6" y1="1708.3" x2="1671.6" y2="1773.3" stroke="#000" stroke-width="1.5"/>
<line x1="1661.3" y1="1708.3" x2="1681.9" y2="1708.3" stroke="#000" stroke-width="1.5"/>
<line x1="1661.3" y1="1773.3" x2="1681.9" y2="1773.3" stroke="#000" stroke-width="1.5"/>
<line x1="1671.6" y1="2013.0" x2="1671.6" y2="2025.6" stroke="#000" stroke-width="1.5"/>
<line x1="1725.7" y1="1776.2" x2="1725.7" y2="1803.5" stroke="#000" stroke-width="1.5"/>
<line x1="1715.4" y1="1776.2" x2="1736.0" y2="1776.2" stroke="#000" stroke-width="1.5"/>
<line x1="1715.4" y1="1803.5" x2="1736.0" y2="1803.5" stroke="#000" stroke-width="1.5"/>
<line x1="1725.7" y1="2013.0" x2="1725.7" y2="2025.6" stroke="#000" stroke-width="1.5"/>
<line x1="1779.8" y1="1924.6" x2="1779.8" y2="1931.0" stroke="#000" stroke-width="1.5"/>
<line x1="1769.5" y1="1924.6" x2="1790.1" y2="1924.6" stroke="#000" stroke-width="1.5"/>
<line x1="1769.5" y1="1931.0" x2="1790.1" y2="1931.0" stroke="#000" stroke-width="1.5"/>
<line x1="1779.8" y1="2013.0" x2="1779.8" y2="2025.6" stroke="#000" stroke-width="1.5"/>
<circle cx="1476.4" cy="1681.7" r="3.7" fill="#000"/>
<circle cx="1469.7" cy="1730.7" r="3.7" fill="#000"/>
<circle cx="1482.8" cy="1733.9" r="3.7" fill="#000"/>
<circle cx="1476.4" cy="1772.4" r="3.7" fill="#000"/>
<circle cx="1530.9" cy="1740.3" r="3.7" fill="#000"/>
<circle cx="1530.9" cy="1761.2" r="3.7" fill="#000"/>
<circle cx="1530.9" cy="1805.1" r="3.7" fill="#000"/>
<circle cx="1530.9" cy="1814.1" r="3.7" fill="#000"/>
<circle cx="1530.9" cy="1866.0" r="3.7" fill="#000"/>
<circle cx="1585.1" cy="1860.6" r="3.7" fill="#000"/>
<circle cx="1585.1" cy="1868.6" r="3.7" fill="#000"/>
<circle cx="1585.1" cy="1927.9" r="3.7" fill="#000"/>
<circle cx="1585.1" cy="1950.9" r="3.7" fill="#000"/>
<circle cx="1585.1" cy="1963.1" r="3.7" fill="#000"/>
<circle cx="1671.6" cy="1661.8" r="3.7" fill="#000"/>
<circle cx="1671.6" cy="1712.5" r="3.7" fill="#000"/>
<circle cx="1664.5" cy="1794.2" r="3.7" fill="#000"/>
<circle cx="1678.3" cy="1793.9" r="3.7" fill="#000"/>
<circle cx="1725.4" cy="1756.4" r="3.7" fill="#000"/>
<circle cx="1725.4" cy="1764.4" r="3.7" fill="#000"/>
<circle cx="1719.0" cy="1798.0" r="3.7" fill="#000"/>
<circle cx="1731.8" cy="1800.3" r="3.7" fill="#000"/>
<circle cx="1725.4" cy="1833.3" r="3.7" fill="#000"/>
<circle cx="1779.9" cy="1920.4" r="3.7" fill="#000"/>
<circle cx="1766.4" cy="1925.2" r="3.7" fill="#000"/>
<circle cx="1793.3" cy="1926.2" r="3.7" fill="#000"/>
<circle cx="1779.9" cy="1941.6" r="3.7" fill="#000"/>
<path d="M1476.6,1661.8 V1555.6 H1585.1 V1575.3" fill="none" stroke="#000" stroke-width="1.5"/>
<path d="M1530.9,1721.1 V1622.4 H1585.1 V1840.3" fill="none" stroke="#000" stroke-width="1.5"/>
<path d="M1671.6,1641 V1555.6 H1779.9 V1575.3" fill="none" stroke="#000" stroke-width="1.5"/>
<path d="M1725.4,1736.5 V1622.4 H1779.9 V1900.6" fill="none" stroke="#000" stroke-width="1.5"/>
<text x="1493.7" y="1548.1" font-size="20" textLength="74.1" lengthAdjust="spacingAndGlyphs">&lt;0.0001</text>
<text x="1524.2" y="1613.8" font-size="20" textLength="67.4" lengthAdjust="spacingAndGlyphs">0.0030</text>
<text x="1689.2" y="1548.1" font-size="20" textLength="74.1" lengthAdjust="spacingAndGlyphs">&lt;0.0001</text>
<text x="1718.8" y="1614.4" font-size="20" textLength="68.4" lengthAdjust="spacingAndGlyphs">0.0005</text>
<text x="1457.2" y="2057.5" font-size="27" textLength="39.1" lengthAdjust="spacingAndGlyphs">Ctl</text>
<text x="1503.1" y="2057.5" font-size="27" textLength="60.8" lengthAdjust="spacingAndGlyphs">MHS</text>
<text x="1567.8" y="2057.5" font-size="27" textLength="38.8" lengthAdjust="spacingAndGlyphs">KO</text>
<text x="1652.4" y="2057.5" font-size="27" textLength="39.0" lengthAdjust="spacingAndGlyphs">Ctl</text>
<text x="1698.2" y="2057.5" font-size="27" textLength="60.6" lengthAdjust="spacingAndGlyphs">MHS</text>
<text x="1761.7" y="2057.5" font-size="27" textLength="39.4" lengthAdjust="spacingAndGlyphs">KO</text>
<line x1="1449.8" y1="2067.0" x2="1610.7" y2="2067.0" stroke="#000" stroke-width="1.6"/>
<line x1="1645.3" y1="2067.0" x2="1806.5" y2="2067.0" stroke="#000" stroke-width="1.6"/>
<text x="1489.9" y="2094.0" font-size="27" textLength="99.7" lengthAdjust="spacingAndGlyphs">Tau-441</text>
<text x="1694.3" y="2094" font-size="27">Aβ<tspan font-size="19" dy="8">1–42</tspan></text>
<text transform="translate(1339.2 1948.7) rotate(-90)" font-size="27" textLength="286" lengthAdjust="spacingAndGlyphs">Migrated cells per mm<tspan font-size="18" dy="-11">2</tspan></text>
</svg>
</body></html>
